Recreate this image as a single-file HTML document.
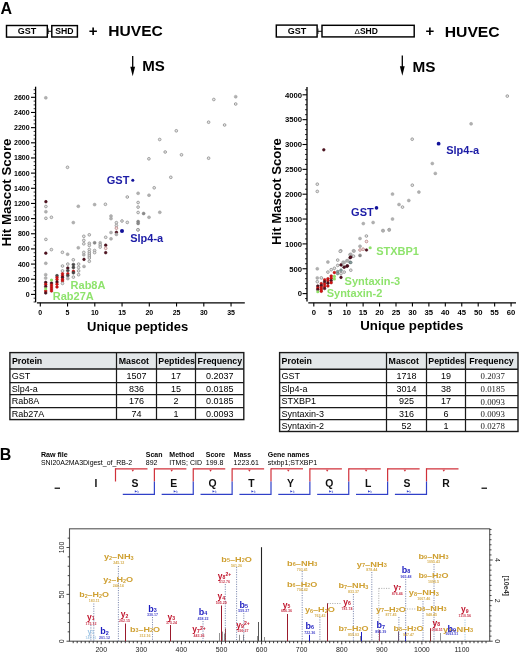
<!DOCTYPE html>
<html><head><meta charset="utf-8"><style>
html,body{margin:0;padding:0;background:#fff;}
svg{display:block;font-family:"Liberation Sans", sans-serif;-webkit-font-smoothing:antialiased;will-change:transform;}
</style></head><body>
<svg width="520" height="653" viewBox="0 0 520 653">
<rect width="520" height="653" fill="#fff"/>
<text x="0.60" y="13.90" font-size="16" font-weight="bold" text-anchor="start" fill="#000" >A</text>
<rect x="6.5" y="25.5" width="40.8" height="11.6" fill="none" stroke="#000" stroke-width="1.45"/>
<text x="27.00" y="34.00" font-size="9" font-weight="bold" text-anchor="middle" fill="#000" >GST</text>
<line x1="47.30" y1="31.30" x2="51.80" y2="31.30" stroke="#111" stroke-width="1" />
<line x1="48.30" y1="28.50" x2="48.30" y2="34.00" stroke="#111" stroke-width="0.8" />
<rect x="51.8" y="25.6" width="25.6" height="11.4" fill="none" stroke="#000" stroke-width="1.45"/>
<text x="64.30" y="34.20" font-size="8.7" font-weight="bold" text-anchor="middle" fill="#000" >SHD</text>
<text x="88.80" y="36.00" font-size="15" font-weight="bold" text-anchor="start" fill="#000" >+</text>
<text x="108.30" y="36.30" font-size="15" font-weight="bold" text-anchor="start" fill="#000" textLength="54.5" lengthAdjust="spacingAndGlyphs">HUVEC</text>
<line x1="132.70" y1="56.00" x2="132.70" y2="68.50" stroke="#000" stroke-width="1.3" />
<polygon points="130.3,66.8 135.1,66.8 132.7,76.2" fill="#000"/>
<text x="142.20" y="71.40" font-size="15" font-weight="bold" text-anchor="start" fill="#000" textLength="22.6" lengthAdjust="spacingAndGlyphs">MS</text>
<rect x="276.3" y="25.1" width="40.8" height="11.9" fill="none" stroke="#000" stroke-width="1.45"/>
<text x="296.90" y="34.00" font-size="9" font-weight="bold" text-anchor="middle" fill="#000" >GST</text>
<line x1="317.10" y1="31.30" x2="322.00" y2="31.30" stroke="#111" stroke-width="1" />
<line x1="318.00" y1="28.50" x2="318.00" y2="34.00" stroke="#111" stroke-width="0.8" />
<rect x="322.0" y="25.3" width="92.2" height="11.6" fill="none" stroke="#000" stroke-width="1.45"/>
<text x="354.6" y="34.3" font-size="8.5" font-weight="bold" fill="#000"><tspan font-weight="normal" font-size="8">&#916;</tspan>SHD</text>
<text x="425.40" y="36.30" font-size="15" font-weight="bold" text-anchor="start" fill="#000" >+</text>
<text x="444.70" y="36.60" font-size="15" font-weight="bold" text-anchor="start" fill="#000" textLength="55" lengthAdjust="spacingAndGlyphs">HUVEC</text>
<line x1="402.30" y1="55.50" x2="402.30" y2="68.00" stroke="#000" stroke-width="1.3" />
<polygon points="399.9,66.3 404.7,66.3 402.3,75.8" fill="#000"/>
<text x="412.50" y="71.50" font-size="15" font-weight="bold" text-anchor="start" fill="#000" textLength="23" lengthAdjust="spacingAndGlyphs">MS</text>
<line x1="35.60" y1="86.70" x2="35.60" y2="302.20" stroke="#000" stroke-width="1.3" />
<line x1="33.60" y1="301.98" x2="35.60" y2="301.98" stroke="#000" stroke-width="0.8" />
<line x1="33.60" y1="298.19" x2="35.60" y2="298.19" stroke="#000" stroke-width="0.8" />
<line x1="31.00" y1="294.40" x2="35.60" y2="294.40" stroke="#000" stroke-width="1.1" />
<text x="29.60" y="296.90" font-size="7" font-weight="bold" text-anchor="end" fill="#000" >0</text>
<line x1="33.60" y1="290.61" x2="35.60" y2="290.61" stroke="#000" stroke-width="0.8" />
<line x1="33.60" y1="286.82" x2="35.60" y2="286.82" stroke="#000" stroke-width="0.8" />
<line x1="33.60" y1="283.03" x2="35.60" y2="283.03" stroke="#000" stroke-width="0.8" />
<line x1="31.00" y1="279.24" x2="35.60" y2="279.24" stroke="#000" stroke-width="1.1" />
<text x="29.60" y="281.74" font-size="7" font-weight="bold" text-anchor="end" fill="#000" >200</text>
<line x1="33.60" y1="275.45" x2="35.60" y2="275.45" stroke="#000" stroke-width="0.8" />
<line x1="33.60" y1="271.66" x2="35.60" y2="271.66" stroke="#000" stroke-width="0.8" />
<line x1="33.60" y1="267.87" x2="35.60" y2="267.87" stroke="#000" stroke-width="0.8" />
<line x1="31.00" y1="264.08" x2="35.60" y2="264.08" stroke="#000" stroke-width="1.1" />
<text x="29.60" y="266.58" font-size="7" font-weight="bold" text-anchor="end" fill="#000" >400</text>
<line x1="33.60" y1="260.29" x2="35.60" y2="260.29" stroke="#000" stroke-width="0.8" />
<line x1="33.60" y1="256.50" x2="35.60" y2="256.50" stroke="#000" stroke-width="0.8" />
<line x1="33.60" y1="252.71" x2="35.60" y2="252.71" stroke="#000" stroke-width="0.8" />
<line x1="31.00" y1="248.92" x2="35.60" y2="248.92" stroke="#000" stroke-width="1.1" />
<text x="29.60" y="251.42" font-size="7" font-weight="bold" text-anchor="end" fill="#000" >600</text>
<line x1="33.60" y1="245.13" x2="35.60" y2="245.13" stroke="#000" stroke-width="0.8" />
<line x1="33.60" y1="241.34" x2="35.60" y2="241.34" stroke="#000" stroke-width="0.8" />
<line x1="33.60" y1="237.55" x2="35.60" y2="237.55" stroke="#000" stroke-width="0.8" />
<line x1="31.00" y1="233.76" x2="35.60" y2="233.76" stroke="#000" stroke-width="1.1" />
<text x="29.60" y="236.26" font-size="7" font-weight="bold" text-anchor="end" fill="#000" >800</text>
<line x1="33.60" y1="229.97" x2="35.60" y2="229.97" stroke="#000" stroke-width="0.8" />
<line x1="33.60" y1="226.18" x2="35.60" y2="226.18" stroke="#000" stroke-width="0.8" />
<line x1="33.60" y1="222.39" x2="35.60" y2="222.39" stroke="#000" stroke-width="0.8" />
<line x1="31.00" y1="218.60" x2="35.60" y2="218.60" stroke="#000" stroke-width="1.1" />
<text x="29.60" y="221.10" font-size="7" font-weight="bold" text-anchor="end" fill="#000" >1000</text>
<line x1="33.60" y1="214.81" x2="35.60" y2="214.81" stroke="#000" stroke-width="0.8" />
<line x1="33.60" y1="211.02" x2="35.60" y2="211.02" stroke="#000" stroke-width="0.8" />
<line x1="33.60" y1="207.23" x2="35.60" y2="207.23" stroke="#000" stroke-width="0.8" />
<line x1="31.00" y1="203.44" x2="35.60" y2="203.44" stroke="#000" stroke-width="1.1" />
<text x="29.60" y="205.94" font-size="7" font-weight="bold" text-anchor="end" fill="#000" >1200</text>
<line x1="33.60" y1="199.65" x2="35.60" y2="199.65" stroke="#000" stroke-width="0.8" />
<line x1="33.60" y1="195.86" x2="35.60" y2="195.86" stroke="#000" stroke-width="0.8" />
<line x1="33.60" y1="192.07" x2="35.60" y2="192.07" stroke="#000" stroke-width="0.8" />
<line x1="31.00" y1="188.28" x2="35.60" y2="188.28" stroke="#000" stroke-width="1.1" />
<text x="29.60" y="190.78" font-size="7" font-weight="bold" text-anchor="end" fill="#000" >1400</text>
<line x1="33.60" y1="184.49" x2="35.60" y2="184.49" stroke="#000" stroke-width="0.8" />
<line x1="33.60" y1="180.70" x2="35.60" y2="180.70" stroke="#000" stroke-width="0.8" />
<line x1="33.60" y1="176.91" x2="35.60" y2="176.91" stroke="#000" stroke-width="0.8" />
<line x1="31.00" y1="173.12" x2="35.60" y2="173.12" stroke="#000" stroke-width="1.1" />
<text x="29.60" y="175.62" font-size="7" font-weight="bold" text-anchor="end" fill="#000" >1600</text>
<line x1="33.60" y1="169.33" x2="35.60" y2="169.33" stroke="#000" stroke-width="0.8" />
<line x1="33.60" y1="165.54" x2="35.60" y2="165.54" stroke="#000" stroke-width="0.8" />
<line x1="33.60" y1="161.75" x2="35.60" y2="161.75" stroke="#000" stroke-width="0.8" />
<line x1="31.00" y1="157.96" x2="35.60" y2="157.96" stroke="#000" stroke-width="1.1" />
<text x="29.60" y="160.46" font-size="7" font-weight="bold" text-anchor="end" fill="#000" >1800</text>
<line x1="33.60" y1="154.17" x2="35.60" y2="154.17" stroke="#000" stroke-width="0.8" />
<line x1="33.60" y1="150.38" x2="35.60" y2="150.38" stroke="#000" stroke-width="0.8" />
<line x1="33.60" y1="146.59" x2="35.60" y2="146.59" stroke="#000" stroke-width="0.8" />
<line x1="31.00" y1="142.80" x2="35.60" y2="142.80" stroke="#000" stroke-width="1.1" />
<text x="29.60" y="145.30" font-size="7" font-weight="bold" text-anchor="end" fill="#000" >2000</text>
<line x1="33.60" y1="139.01" x2="35.60" y2="139.01" stroke="#000" stroke-width="0.8" />
<line x1="33.60" y1="135.22" x2="35.60" y2="135.22" stroke="#000" stroke-width="0.8" />
<line x1="33.60" y1="131.43" x2="35.60" y2="131.43" stroke="#000" stroke-width="0.8" />
<line x1="31.00" y1="127.64" x2="35.60" y2="127.64" stroke="#000" stroke-width="1.1" />
<text x="29.60" y="130.14" font-size="7" font-weight="bold" text-anchor="end" fill="#000" >2200</text>
<line x1="33.60" y1="123.85" x2="35.60" y2="123.85" stroke="#000" stroke-width="0.8" />
<line x1="33.60" y1="120.06" x2="35.60" y2="120.06" stroke="#000" stroke-width="0.8" />
<line x1="33.60" y1="116.27" x2="35.60" y2="116.27" stroke="#000" stroke-width="0.8" />
<line x1="31.00" y1="112.48" x2="35.60" y2="112.48" stroke="#000" stroke-width="1.1" />
<text x="29.60" y="114.98" font-size="7" font-weight="bold" text-anchor="end" fill="#000" >2400</text>
<line x1="33.60" y1="108.69" x2="35.60" y2="108.69" stroke="#000" stroke-width="0.8" />
<line x1="33.60" y1="104.90" x2="35.60" y2="104.90" stroke="#000" stroke-width="0.8" />
<line x1="33.60" y1="101.11" x2="35.60" y2="101.11" stroke="#000" stroke-width="0.8" />
<line x1="31.00" y1="97.32" x2="35.60" y2="97.32" stroke="#000" stroke-width="1.1" />
<text x="29.60" y="99.82" font-size="7" font-weight="bold" text-anchor="end" fill="#000" >2600</text>
<line x1="33.60" y1="93.53" x2="35.60" y2="93.53" stroke="#000" stroke-width="0.8" />
<line x1="33.60" y1="89.74" x2="35.60" y2="89.74" stroke="#000" stroke-width="0.8" />
<line x1="36.90" y1="302.80" x2="244.80" y2="302.80" stroke="#000" stroke-width="1.3" />
<line x1="40.30" y1="302.80" x2="40.30" y2="306.60" stroke="#000" stroke-width="1.1" />
<text x="40.30" y="314.80" font-size="7" font-weight="bold" text-anchor="middle" fill="#000" >0</text>
<line x1="67.55" y1="302.80" x2="67.55" y2="306.60" stroke="#000" stroke-width="1.1" />
<text x="67.55" y="314.80" font-size="7" font-weight="bold" text-anchor="middle" fill="#000" >5</text>
<line x1="94.80" y1="302.80" x2="94.80" y2="306.60" stroke="#000" stroke-width="1.1" />
<text x="94.80" y="314.80" font-size="7" font-weight="bold" text-anchor="middle" fill="#000" >10</text>
<line x1="122.05" y1="302.80" x2="122.05" y2="306.60" stroke="#000" stroke-width="1.1" />
<text x="122.05" y="314.80" font-size="7" font-weight="bold" text-anchor="middle" fill="#000" >15</text>
<line x1="149.30" y1="302.80" x2="149.30" y2="306.60" stroke="#000" stroke-width="1.1" />
<text x="149.30" y="314.80" font-size="7" font-weight="bold" text-anchor="middle" fill="#000" >20</text>
<line x1="176.55" y1="302.80" x2="176.55" y2="306.60" stroke="#000" stroke-width="1.1" />
<text x="176.55" y="314.80" font-size="7" font-weight="bold" text-anchor="middle" fill="#000" >25</text>
<line x1="203.80" y1="302.80" x2="203.80" y2="306.60" stroke="#000" stroke-width="1.1" />
<text x="203.80" y="314.80" font-size="7" font-weight="bold" text-anchor="middle" fill="#000" >30</text>
<line x1="231.05" y1="302.80" x2="231.05" y2="306.60" stroke="#000" stroke-width="1.1" />
<text x="231.05" y="314.80" font-size="7" font-weight="bold" text-anchor="middle" fill="#000" >35</text>
<text transform="translate(10.6,192.5) rotate(-90)" x="0" y="0" font-size="13" font-weight="bold" text-anchor="middle" textLength="108" lengthAdjust="spacingAndGlyphs">Hit Mascot Score</text>
<text x="137.60" y="331.20" font-size="13" font-weight="bold" text-anchor="middle" fill="#000" >Unique peptides</text>
<line x1="307.00" y1="87.00" x2="307.00" y2="301.60" stroke="#000" stroke-width="1.3" />
<line x1="305.00" y1="298.57" x2="307.00" y2="298.57" stroke="#000" stroke-width="0.8" />
<line x1="302.50" y1="293.60" x2="307.00" y2="293.60" stroke="#000" stroke-width="1.1" />
<text x="302.00" y="296.40" font-size="7.7" font-weight="bold" text-anchor="end" fill="#000" >0</text>
<line x1="305.00" y1="288.63" x2="307.00" y2="288.63" stroke="#000" stroke-width="0.8" />
<line x1="305.00" y1="283.66" x2="307.00" y2="283.66" stroke="#000" stroke-width="0.8" />
<line x1="305.00" y1="278.69" x2="307.00" y2="278.69" stroke="#000" stroke-width="0.8" />
<line x1="305.00" y1="273.72" x2="307.00" y2="273.72" stroke="#000" stroke-width="0.8" />
<line x1="302.50" y1="268.75" x2="307.00" y2="268.75" stroke="#000" stroke-width="1.1" />
<text x="302.00" y="271.55" font-size="7.7" font-weight="bold" text-anchor="end" fill="#000" >500</text>
<line x1="305.00" y1="263.78" x2="307.00" y2="263.78" stroke="#000" stroke-width="0.8" />
<line x1="305.00" y1="258.81" x2="307.00" y2="258.81" stroke="#000" stroke-width="0.8" />
<line x1="305.00" y1="253.84" x2="307.00" y2="253.84" stroke="#000" stroke-width="0.8" />
<line x1="305.00" y1="248.87" x2="307.00" y2="248.87" stroke="#000" stroke-width="0.8" />
<line x1="302.50" y1="243.90" x2="307.00" y2="243.90" stroke="#000" stroke-width="1.1" />
<text x="302.00" y="246.70" font-size="7.7" font-weight="bold" text-anchor="end" fill="#000" >1000</text>
<line x1="305.00" y1="238.93" x2="307.00" y2="238.93" stroke="#000" stroke-width="0.8" />
<line x1="305.00" y1="233.96" x2="307.00" y2="233.96" stroke="#000" stroke-width="0.8" />
<line x1="305.00" y1="228.99" x2="307.00" y2="228.99" stroke="#000" stroke-width="0.8" />
<line x1="305.00" y1="224.02" x2="307.00" y2="224.02" stroke="#000" stroke-width="0.8" />
<line x1="302.50" y1="219.05" x2="307.00" y2="219.05" stroke="#000" stroke-width="1.1" />
<text x="302.00" y="221.85" font-size="7.7" font-weight="bold" text-anchor="end" fill="#000" >1500</text>
<line x1="305.00" y1="214.08" x2="307.00" y2="214.08" stroke="#000" stroke-width="0.8" />
<line x1="305.00" y1="209.11" x2="307.00" y2="209.11" stroke="#000" stroke-width="0.8" />
<line x1="305.00" y1="204.14" x2="307.00" y2="204.14" stroke="#000" stroke-width="0.8" />
<line x1="305.00" y1="199.17" x2="307.00" y2="199.17" stroke="#000" stroke-width="0.8" />
<line x1="302.50" y1="194.20" x2="307.00" y2="194.20" stroke="#000" stroke-width="1.1" />
<text x="302.00" y="197.00" font-size="7.7" font-weight="bold" text-anchor="end" fill="#000" >2000</text>
<line x1="305.00" y1="189.23" x2="307.00" y2="189.23" stroke="#000" stroke-width="0.8" />
<line x1="305.00" y1="184.26" x2="307.00" y2="184.26" stroke="#000" stroke-width="0.8" />
<line x1="305.00" y1="179.29" x2="307.00" y2="179.29" stroke="#000" stroke-width="0.8" />
<line x1="305.00" y1="174.32" x2="307.00" y2="174.32" stroke="#000" stroke-width="0.8" />
<line x1="302.50" y1="169.35" x2="307.00" y2="169.35" stroke="#000" stroke-width="1.1" />
<text x="302.00" y="172.15" font-size="7.7" font-weight="bold" text-anchor="end" fill="#000" >2500</text>
<line x1="305.00" y1="164.38" x2="307.00" y2="164.38" stroke="#000" stroke-width="0.8" />
<line x1="305.00" y1="159.41" x2="307.00" y2="159.41" stroke="#000" stroke-width="0.8" />
<line x1="305.00" y1="154.44" x2="307.00" y2="154.44" stroke="#000" stroke-width="0.8" />
<line x1="305.00" y1="149.47" x2="307.00" y2="149.47" stroke="#000" stroke-width="0.8" />
<line x1="302.50" y1="144.50" x2="307.00" y2="144.50" stroke="#000" stroke-width="1.1" />
<text x="302.00" y="147.30" font-size="7.7" font-weight="bold" text-anchor="end" fill="#000" >3000</text>
<line x1="305.00" y1="139.53" x2="307.00" y2="139.53" stroke="#000" stroke-width="0.8" />
<line x1="305.00" y1="134.56" x2="307.00" y2="134.56" stroke="#000" stroke-width="0.8" />
<line x1="305.00" y1="129.59" x2="307.00" y2="129.59" stroke="#000" stroke-width="0.8" />
<line x1="305.00" y1="124.62" x2="307.00" y2="124.62" stroke="#000" stroke-width="0.8" />
<line x1="302.50" y1="119.65" x2="307.00" y2="119.65" stroke="#000" stroke-width="1.1" />
<text x="302.00" y="122.45" font-size="7.7" font-weight="bold" text-anchor="end" fill="#000" >3500</text>
<line x1="305.00" y1="114.68" x2="307.00" y2="114.68" stroke="#000" stroke-width="0.8" />
<line x1="305.00" y1="109.71" x2="307.00" y2="109.71" stroke="#000" stroke-width="0.8" />
<line x1="305.00" y1="104.74" x2="307.00" y2="104.74" stroke="#000" stroke-width="0.8" />
<line x1="305.00" y1="99.77" x2="307.00" y2="99.77" stroke="#000" stroke-width="0.8" />
<line x1="302.50" y1="94.80" x2="307.00" y2="94.80" stroke="#000" stroke-width="1.1" />
<text x="302.00" y="97.60" font-size="7.7" font-weight="bold" text-anchor="end" fill="#000" >4000</text>
<line x1="305.00" y1="89.83" x2="307.00" y2="89.83" stroke="#000" stroke-width="0.8" />
<line x1="308.30" y1="302.80" x2="516.00" y2="302.80" stroke="#000" stroke-width="1.3" />
<line x1="313.80" y1="302.80" x2="313.80" y2="306.60" stroke="#000" stroke-width="1.1" />
<text x="313.80" y="314.70" font-size="7.7" font-weight="bold" text-anchor="middle" fill="#000" >0</text>
<line x1="330.24" y1="302.80" x2="330.24" y2="306.60" stroke="#000" stroke-width="1.1" />
<text x="330.24" y="314.70" font-size="7.7" font-weight="bold" text-anchor="middle" fill="#000" >5</text>
<line x1="346.68" y1="302.80" x2="346.68" y2="306.60" stroke="#000" stroke-width="1.1" />
<text x="346.68" y="314.70" font-size="7.7" font-weight="bold" text-anchor="middle" fill="#000" >10</text>
<line x1="363.12" y1="302.80" x2="363.12" y2="306.60" stroke="#000" stroke-width="1.1" />
<text x="363.12" y="314.70" font-size="7.7" font-weight="bold" text-anchor="middle" fill="#000" >15</text>
<line x1="379.56" y1="302.80" x2="379.56" y2="306.60" stroke="#000" stroke-width="1.1" />
<text x="379.56" y="314.70" font-size="7.7" font-weight="bold" text-anchor="middle" fill="#000" >20</text>
<line x1="396.00" y1="302.80" x2="396.00" y2="306.60" stroke="#000" stroke-width="1.1" />
<text x="396.00" y="314.70" font-size="7.7" font-weight="bold" text-anchor="middle" fill="#000" >25</text>
<line x1="412.44" y1="302.80" x2="412.44" y2="306.60" stroke="#000" stroke-width="1.1" />
<text x="412.44" y="314.70" font-size="7.7" font-weight="bold" text-anchor="middle" fill="#000" >30</text>
<line x1="428.88" y1="302.80" x2="428.88" y2="306.60" stroke="#000" stroke-width="1.1" />
<text x="428.88" y="314.70" font-size="7.7" font-weight="bold" text-anchor="middle" fill="#000" >35</text>
<line x1="445.32" y1="302.80" x2="445.32" y2="306.60" stroke="#000" stroke-width="1.1" />
<text x="445.32" y="314.70" font-size="7.7" font-weight="bold" text-anchor="middle" fill="#000" >40</text>
<line x1="461.76" y1="302.80" x2="461.76" y2="306.60" stroke="#000" stroke-width="1.1" />
<text x="461.76" y="314.70" font-size="7.7" font-weight="bold" text-anchor="middle" fill="#000" >45</text>
<line x1="478.20" y1="302.80" x2="478.20" y2="306.60" stroke="#000" stroke-width="1.1" />
<text x="478.20" y="314.70" font-size="7.7" font-weight="bold" text-anchor="middle" fill="#000" >50</text>
<line x1="494.64" y1="302.80" x2="494.64" y2="306.60" stroke="#000" stroke-width="1.1" />
<text x="494.64" y="314.70" font-size="7.7" font-weight="bold" text-anchor="middle" fill="#000" >55</text>
<line x1="511.08" y1="302.80" x2="511.08" y2="306.60" stroke="#000" stroke-width="1.1" />
<text x="511.08" y="314.70" font-size="7.7" font-weight="bold" text-anchor="middle" fill="#000" >60</text>
<text transform="translate(281.2,191.6) rotate(-90)" x="0" y="0" font-size="11.9" font-weight="bold" text-anchor="middle" textLength="106.6" lengthAdjust="spacingAndGlyphs">Hit Mascot Score</text>
<text x="411.80" y="330.40" font-size="13" font-weight="bold" text-anchor="middle" fill="#000" textLength="103" lengthAdjust="spacingAndGlyphs">Unique peptides</text>
<rect x="9.9" y="352.6" width="233.9" height="16.399999999999977" fill="#e3e7e9"/>
<rect x="9.9" y="352.6" width="233.9" height="67.0" fill="none" stroke="#1a1a1a" stroke-width="1.4"/>
<line x1="9.90" y1="369.00" x2="243.80" y2="369.00" stroke="#1a1a1a" stroke-width="1.6" />
<line x1="9.90" y1="382.50" x2="243.80" y2="382.50" stroke="#1a1a1a" stroke-width="1.25" />
<line x1="9.90" y1="394.50" x2="243.80" y2="394.50" stroke="#1a1a1a" stroke-width="1.25" />
<line x1="9.90" y1="407.50" x2="243.80" y2="407.50" stroke="#1a1a1a" stroke-width="1.25" />
<line x1="116.50" y1="352.60" x2="116.50" y2="419.60" stroke="#1a1a1a" stroke-width="1.25" />
<line x1="156.50" y1="352.60" x2="156.50" y2="419.60" stroke="#1a1a1a" stroke-width="1.25" />
<line x1="195.50" y1="352.60" x2="195.50" y2="419.60" stroke="#1a1a1a" stroke-width="1.25" />
<text x="11.90" y="363.70" font-size="8.8" font-weight="bold" text-anchor="start" fill="#000" >Protein</text>
<text x="118.70" y="363.70" font-size="8.8" font-weight="bold" text-anchor="start" fill="#000" >Mascot</text>
<text x="158.30" y="363.70" font-size="8.8" font-weight="bold" text-anchor="start" fill="#000" >Peptides</text>
<text x="197.60" y="363.70" font-size="8.8" font-weight="bold" text-anchor="start" fill="#000" >Frequency</text>
<text x="11.70" y="378.85" font-size="9" font-weight="normal" text-anchor="start" fill="#000" >GST</text>
<text x="136.50" y="378.85" font-size="9" font-weight="normal" text-anchor="middle" fill="#000" >1507</text>
<text x="175.95" y="378.85" font-size="9" font-weight="normal" text-anchor="middle" fill="#000" >17</text>
<text x="219.70" y="378.85" font-size="9" font-weight="normal" text-anchor="middle" fill="#000" >0.2037</text>
<text x="11.70" y="391.75" font-size="9" font-weight="normal" text-anchor="start" fill="#000" >Slp4-a</text>
<text x="136.50" y="391.75" font-size="9" font-weight="normal" text-anchor="middle" fill="#000" >836</text>
<text x="175.95" y="391.75" font-size="9" font-weight="normal" text-anchor="middle" fill="#000" >15</text>
<text x="219.70" y="391.75" font-size="9" font-weight="normal" text-anchor="middle" fill="#000" >0.0185</text>
<text x="11.70" y="404.25" font-size="9" font-weight="normal" text-anchor="start" fill="#000" >Rab8A</text>
<text x="136.50" y="404.25" font-size="9" font-weight="normal" text-anchor="middle" fill="#000" >176</text>
<text x="175.95" y="404.25" font-size="9" font-weight="normal" text-anchor="middle" fill="#000" >2</text>
<text x="219.70" y="404.25" font-size="9" font-weight="normal" text-anchor="middle" fill="#000" >0.0185</text>
<text x="11.70" y="416.65" font-size="9" font-weight="normal" text-anchor="start" fill="#000" >Rab27A</text>
<text x="136.50" y="416.65" font-size="9" font-weight="normal" text-anchor="middle" fill="#000" >74</text>
<text x="175.95" y="416.65" font-size="9" font-weight="normal" text-anchor="middle" fill="#000" >1</text>
<text x="219.70" y="416.65" font-size="9" font-weight="normal" text-anchor="middle" fill="#000" >0.0093</text>
<rect x="279.6" y="352.6" width="238.39999999999998" height="16.599999999999966" fill="#e3e7e9"/>
<rect x="279.6" y="352.6" width="238.39999999999998" height="78.89999999999998" fill="none" stroke="#1a1a1a" stroke-width="1.4"/>
<line x1="279.60" y1="369.20" x2="518.00" y2="369.20" stroke="#1a1a1a" stroke-width="1.6" />
<line x1="279.60" y1="382.50" x2="518.00" y2="382.50" stroke="#1a1a1a" stroke-width="1.25" />
<line x1="279.60" y1="395.50" x2="518.00" y2="395.50" stroke="#1a1a1a" stroke-width="1.25" />
<line x1="279.60" y1="407.50" x2="518.00" y2="407.50" stroke="#1a1a1a" stroke-width="1.25" />
<line x1="279.60" y1="419.50" x2="518.00" y2="419.50" stroke="#1a1a1a" stroke-width="1.25" />
<line x1="386.50" y1="352.60" x2="386.50" y2="431.50" stroke="#1a1a1a" stroke-width="1.25" />
<line x1="426.50" y1="352.60" x2="426.50" y2="431.50" stroke="#1a1a1a" stroke-width="1.25" />
<line x1="465.50" y1="352.60" x2="465.50" y2="431.50" stroke="#1a1a1a" stroke-width="1.25" />
<text x="281.60" y="363.80" font-size="8.8" font-weight="bold" text-anchor="start" fill="#000" >Protein</text>
<text x="388.60" y="363.80" font-size="8.8" font-weight="bold" text-anchor="start" fill="#000" >Mascot</text>
<text x="428.30" y="363.80" font-size="8.8" font-weight="bold" text-anchor="start" fill="#000" >Peptides</text>
<text x="469.20" y="363.80" font-size="8.8" font-weight="bold" text-anchor="start" fill="#000" >Frequency</text>
<text x="281.40" y="379.05" font-size="9" font-weight="normal" text-anchor="start" fill="#000" >GST</text>
<text x="406.45" y="379.05" font-size="9" font-weight="normal" text-anchor="middle" fill="#000" >1718</text>
<text x="445.95" y="379.05" font-size="9" font-weight="normal" text-anchor="middle" fill="#000" >19</text>
<text x="492.70" y="379.45" font-size="8.8" text-anchor="middle" font-family="Liberation Serif, serif" fill="#222">0.2037</text>
<text x="281.40" y="391.95" font-size="9" font-weight="normal" text-anchor="start" fill="#000" >Slp4-a</text>
<text x="406.45" y="391.95" font-size="9" font-weight="normal" text-anchor="middle" fill="#000" >3014</text>
<text x="445.95" y="391.95" font-size="9" font-weight="normal" text-anchor="middle" fill="#000" >38</text>
<text x="492.70" y="392.35" font-size="8.8" text-anchor="middle" font-family="Liberation Serif, serif" fill="#222">0.0185</text>
<text x="281.40" y="404.45" font-size="9" font-weight="normal" text-anchor="start" fill="#000" >STXBP1</text>
<text x="406.45" y="404.45" font-size="9" font-weight="normal" text-anchor="middle" fill="#000" >925</text>
<text x="445.95" y="404.45" font-size="9" font-weight="normal" text-anchor="middle" fill="#000" >17</text>
<text x="492.70" y="404.85" font-size="8.8" text-anchor="middle" font-family="Liberation Serif, serif" fill="#222">0.0093</text>
<text x="281.40" y="416.70" font-size="9" font-weight="normal" text-anchor="start" fill="#000" >Syntaxin-3</text>
<text x="406.45" y="416.70" font-size="9" font-weight="normal" text-anchor="middle" fill="#000" >316</text>
<text x="445.95" y="416.70" font-size="9" font-weight="normal" text-anchor="middle" fill="#000" >6</text>
<text x="492.70" y="417.10" font-size="8.8" text-anchor="middle" font-family="Liberation Serif, serif" fill="#222">0.0093</text>
<text x="281.40" y="428.70" font-size="9" font-weight="normal" text-anchor="start" fill="#000" >Syntaxin-2</text>
<text x="406.45" y="428.70" font-size="9" font-weight="normal" text-anchor="middle" fill="#000" >52</text>
<text x="445.95" y="428.70" font-size="9" font-weight="normal" text-anchor="middle" fill="#000" >1</text>
<text x="492.70" y="429.10" font-size="8.8" text-anchor="middle" font-family="Liberation Serif, serif" fill="#222">0.0278</text>
<text x="-0.20" y="460.40" font-size="16" font-weight="bold" text-anchor="start" fill="#000" >B</text>
<text x="40.90" y="456.90" font-size="7" font-weight="bold" text-anchor="start" fill="#000" textLength="26.9" lengthAdjust="spacingAndGlyphs">Raw file</text>
<text x="40.90" y="465.20" font-size="7" font-weight="normal" text-anchor="start" fill="#000" textLength="91.3" lengthAdjust="spacingAndGlyphs">SNI20A2MA3Digest_of_RB-2</text>
<text x="145.80" y="456.90" font-size="7" font-weight="bold" text-anchor="start" fill="#000" >Scan</text>
<text x="145.80" y="465.20" font-size="7" font-weight="normal" text-anchor="start" fill="#000" >892</text>
<text x="169.30" y="456.90" font-size="7" font-weight="bold" text-anchor="start" fill="#000" >Method</text>
<text x="169.30" y="465.20" font-size="7" font-weight="normal" text-anchor="start" fill="#000" >ITMS; CID</text>
<text x="205.80" y="456.90" font-size="7" font-weight="bold" text-anchor="start" fill="#000" >Score</text>
<text x="205.80" y="465.20" font-size="7" font-weight="normal" text-anchor="start" fill="#000" >199.8</text>
<text x="233.60" y="456.90" font-size="7" font-weight="bold" text-anchor="start" fill="#000" >Mass</text>
<text x="233.60" y="465.20" font-size="7" font-weight="normal" text-anchor="start" fill="#000" >1223.61</text>
<text x="267.70" y="456.90" font-size="7" font-weight="bold" text-anchor="start" fill="#000" >Gene names</text>
<text x="267.70" y="465.20" font-size="7" font-weight="normal" text-anchor="start" fill="#000" >stxbp1;STXBP1</text>
<line x1="115.50" y1="468.20" x2="115.50" y2="481.50" stroke="#d0303a" stroke-width="1.2" />
<line x1="115.50" y1="468.80" x2="147.50" y2="468.80" stroke="#d0303a" stroke-width="1.2" />
<polygon points="131.5,469.8 134.1,469.8 132.8,471.8" fill="#d0303a"/>
<line x1="154.38" y1="468.20" x2="154.38" y2="481.50" stroke="#d0303a" stroke-width="1.2" />
<line x1="154.38" y1="468.80" x2="186.38" y2="468.80" stroke="#d0303a" stroke-width="1.2" />
<polygon points="170.4,469.8 173.0,469.8 171.7,471.8" fill="#d0303a"/>
<line x1="154.38" y1="481.50" x2="154.38" y2="495.00" stroke="#3040c8" stroke-width="1.2" />
<line x1="122.78" y1="494.40" x2="154.38" y2="494.40" stroke="#3040c8" stroke-width="1.2" />
<polygon points="134.8,490.2 137.2,491.4 134.8,492.59999999999997" fill="#3040c8"/>
<text x="137.4" y="492.8" font-size="2.6" fill="#3040c8">b</text>
<line x1="193.25" y1="468.20" x2="193.25" y2="481.50" stroke="#d0303a" stroke-width="1.2" />
<line x1="193.25" y1="468.80" x2="225.25" y2="468.80" stroke="#d0303a" stroke-width="1.2" />
<polygon points="209.2,469.8 211.8,469.8 210.6,471.8" fill="#d0303a"/>
<line x1="193.25" y1="481.50" x2="193.25" y2="495.00" stroke="#3040c8" stroke-width="1.2" />
<line x1="161.65" y1="494.40" x2="193.25" y2="494.40" stroke="#3040c8" stroke-width="1.2" />
<polygon points="173.7,490.2 176.1,491.4 173.7,492.59999999999997" fill="#3040c8"/>
<text x="176.2" y="492.8" font-size="2.6" fill="#3040c8">b</text>
<line x1="232.12" y1="468.20" x2="232.12" y2="481.50" stroke="#d0303a" stroke-width="1.2" />
<line x1="232.12" y1="468.80" x2="264.12" y2="468.80" stroke="#d0303a" stroke-width="1.2" />
<polygon points="248.1,469.8 250.7,469.8 249.4,471.8" fill="#d0303a"/>
<line x1="232.12" y1="481.50" x2="232.12" y2="495.00" stroke="#3040c8" stroke-width="1.2" />
<line x1="200.53" y1="494.40" x2="232.12" y2="494.40" stroke="#3040c8" stroke-width="1.2" />
<polygon points="212.5,490.2 214.9,491.4 212.5,492.59999999999997" fill="#3040c8"/>
<text x="215.1" y="492.8" font-size="2.6" fill="#3040c8">b</text>
<line x1="271.00" y1="468.20" x2="271.00" y2="481.50" stroke="#d0303a" stroke-width="1.2" />
<line x1="271.00" y1="468.80" x2="303.00" y2="468.80" stroke="#d0303a" stroke-width="1.2" />
<polygon points="287.0,469.8 289.6,469.8 288.3,471.8" fill="#d0303a"/>
<line x1="271.00" y1="481.50" x2="271.00" y2="495.00" stroke="#3040c8" stroke-width="1.2" />
<line x1="239.40" y1="494.40" x2="271.00" y2="494.40" stroke="#3040c8" stroke-width="1.2" />
<polygon points="251.4,490.2 253.8,491.4 251.4,492.59999999999997" fill="#3040c8"/>
<text x="254.0" y="492.8" font-size="2.6" fill="#3040c8">b</text>
<line x1="309.88" y1="468.20" x2="309.88" y2="481.50" stroke="#d0303a" stroke-width="1.2" />
<line x1="309.88" y1="468.80" x2="341.88" y2="468.80" stroke="#d0303a" stroke-width="1.2" />
<polygon points="325.9,469.8 328.5,469.8 327.2,471.8" fill="#d0303a"/>
<line x1="309.88" y1="481.50" x2="309.88" y2="495.00" stroke="#3040c8" stroke-width="1.2" />
<line x1="278.27" y1="494.40" x2="309.88" y2="494.40" stroke="#3040c8" stroke-width="1.2" />
<polygon points="290.3,490.2 292.7,491.4 290.3,492.59999999999997" fill="#3040c8"/>
<text x="292.9" y="492.8" font-size="2.6" fill="#3040c8">b</text>
<line x1="348.75" y1="468.20" x2="348.75" y2="481.50" stroke="#d0303a" stroke-width="1.2" />
<line x1="348.75" y1="468.80" x2="380.75" y2="468.80" stroke="#d0303a" stroke-width="1.2" />
<polygon points="364.8,469.8 367.4,469.8 366.1,471.8" fill="#d0303a"/>
<line x1="348.75" y1="481.50" x2="348.75" y2="495.00" stroke="#3040c8" stroke-width="1.2" />
<line x1="317.15" y1="494.40" x2="348.75" y2="494.40" stroke="#3040c8" stroke-width="1.2" />
<polygon points="329.1,490.2 331.6,491.4 329.1,492.59999999999997" fill="#3040c8"/>
<text x="331.8" y="492.8" font-size="2.6" fill="#3040c8">b</text>
<line x1="387.62" y1="468.20" x2="387.62" y2="481.50" stroke="#d0303a" stroke-width="1.2" />
<line x1="387.62" y1="468.80" x2="419.62" y2="468.80" stroke="#d0303a" stroke-width="1.2" />
<polygon points="403.6,469.8 406.2,469.8 404.9,471.8" fill="#d0303a"/>
<line x1="387.62" y1="481.50" x2="387.62" y2="495.00" stroke="#3040c8" stroke-width="1.2" />
<line x1="356.02" y1="494.40" x2="387.62" y2="494.40" stroke="#3040c8" stroke-width="1.2" />
<polygon points="368.0,490.2 370.4,491.4 368.0,492.59999999999997" fill="#3040c8"/>
<text x="370.6" y="492.8" font-size="2.6" fill="#3040c8">b</text>
<line x1="426.50" y1="468.20" x2="426.50" y2="481.50" stroke="#d0303a" stroke-width="1.2" />
<line x1="426.50" y1="468.80" x2="458.50" y2="468.80" stroke="#d0303a" stroke-width="1.2" />
<polygon points="442.5,469.8 445.1,469.8 443.8,471.8" fill="#d0303a"/>
<line x1="426.50" y1="481.50" x2="426.50" y2="495.00" stroke="#3040c8" stroke-width="1.2" />
<line x1="394.90" y1="494.40" x2="426.50" y2="494.40" stroke="#3040c8" stroke-width="1.2" />
<polygon points="406.9,490.2 409.3,491.4 406.9,492.59999999999997" fill="#3040c8"/>
<text x="409.5" y="492.8" font-size="2.6" fill="#3040c8">b</text>
<text x="134.90" y="486.70" font-size="10.4" font-weight="bold" text-anchor="middle" fill="#111" >S</text>
<text x="173.78" y="486.70" font-size="10.4" font-weight="bold" text-anchor="middle" fill="#111" >E</text>
<text x="212.65" y="486.70" font-size="10.4" font-weight="bold" text-anchor="middle" fill="#111" >Q</text>
<text x="251.53" y="486.70" font-size="10.4" font-weight="bold" text-anchor="middle" fill="#111" >T</text>
<text x="290.40" y="486.70" font-size="10.4" font-weight="bold" text-anchor="middle" fill="#111" >Y</text>
<text x="329.27" y="486.70" font-size="10.4" font-weight="bold" text-anchor="middle" fill="#111" >Q</text>
<text x="368.15" y="486.70" font-size="10.4" font-weight="bold" text-anchor="middle" fill="#111" >L</text>
<text x="407.02" y="486.70" font-size="10.4" font-weight="bold" text-anchor="middle" fill="#111" >S</text>
<text x="445.90" y="486.70" font-size="10.4" font-weight="bold" text-anchor="middle" fill="#111" >R</text>
<text x="96.00" y="486.50" font-size="10.4" font-weight="bold" text-anchor="middle" fill="#111" >I</text>
<line x1="54.60" y1="488.20" x2="60.00" y2="488.20" stroke="#000" stroke-width="1.2" />
<line x1="481.50" y1="488.20" x2="487.00" y2="488.20" stroke="#000" stroke-width="1.2" />
<rect x="69.5" y="528.8" width="420.2" height="112.40000000000009" fill="none" stroke="#555" stroke-width="1.1"/>
<line x1="73.19" y1="641.20" x2="73.19" y2="643.20" stroke="#222" stroke-width="0.9" />
<line x1="77.20" y1="641.20" x2="77.20" y2="643.20" stroke="#222" stroke-width="0.9" />
<line x1="81.21" y1="641.20" x2="81.21" y2="643.20" stroke="#222" stroke-width="0.9" />
<line x1="85.22" y1="641.20" x2="85.22" y2="643.20" stroke="#222" stroke-width="0.9" />
<line x1="89.23" y1="641.20" x2="89.23" y2="643.20" stroke="#222" stroke-width="0.9" />
<line x1="93.23" y1="641.20" x2="93.23" y2="643.20" stroke="#222" stroke-width="0.9" />
<line x1="97.24" y1="641.20" x2="97.24" y2="643.20" stroke="#222" stroke-width="0.9" />
<line x1="101.25" y1="641.20" x2="101.25" y2="644.40" stroke="#222" stroke-width="0.9" />
<line x1="105.26" y1="641.20" x2="105.26" y2="643.20" stroke="#222" stroke-width="0.9" />
<line x1="109.27" y1="641.20" x2="109.27" y2="643.20" stroke="#222" stroke-width="0.9" />
<line x1="113.27" y1="641.20" x2="113.27" y2="643.20" stroke="#222" stroke-width="0.9" />
<line x1="117.28" y1="641.20" x2="117.28" y2="643.20" stroke="#222" stroke-width="0.9" />
<line x1="121.29" y1="641.20" x2="121.29" y2="643.20" stroke="#222" stroke-width="0.9" />
<line x1="125.30" y1="641.20" x2="125.30" y2="643.20" stroke="#222" stroke-width="0.9" />
<line x1="129.31" y1="641.20" x2="129.31" y2="643.20" stroke="#222" stroke-width="0.9" />
<line x1="133.31" y1="641.20" x2="133.31" y2="643.20" stroke="#222" stroke-width="0.9" />
<line x1="137.32" y1="641.20" x2="137.32" y2="643.20" stroke="#222" stroke-width="0.9" />
<line x1="141.33" y1="641.20" x2="141.33" y2="644.40" stroke="#222" stroke-width="0.9" />
<line x1="145.34" y1="641.20" x2="145.34" y2="643.20" stroke="#222" stroke-width="0.9" />
<line x1="149.35" y1="641.20" x2="149.35" y2="643.20" stroke="#222" stroke-width="0.9" />
<line x1="153.35" y1="641.20" x2="153.35" y2="643.20" stroke="#222" stroke-width="0.9" />
<line x1="157.36" y1="641.20" x2="157.36" y2="643.20" stroke="#222" stroke-width="0.9" />
<line x1="161.37" y1="641.20" x2="161.37" y2="643.20" stroke="#222" stroke-width="0.9" />
<line x1="165.38" y1="641.20" x2="165.38" y2="643.20" stroke="#222" stroke-width="0.9" />
<line x1="169.39" y1="641.20" x2="169.39" y2="643.20" stroke="#222" stroke-width="0.9" />
<line x1="173.39" y1="641.20" x2="173.39" y2="643.20" stroke="#222" stroke-width="0.9" />
<line x1="177.40" y1="641.20" x2="177.40" y2="643.20" stroke="#222" stroke-width="0.9" />
<line x1="181.41" y1="641.20" x2="181.41" y2="644.40" stroke="#222" stroke-width="0.9" />
<line x1="185.42" y1="641.20" x2="185.42" y2="643.20" stroke="#222" stroke-width="0.9" />
<line x1="189.43" y1="641.20" x2="189.43" y2="643.20" stroke="#222" stroke-width="0.9" />
<line x1="193.43" y1="641.20" x2="193.43" y2="643.20" stroke="#222" stroke-width="0.9" />
<line x1="197.44" y1="641.20" x2="197.44" y2="643.20" stroke="#222" stroke-width="0.9" />
<line x1="201.45" y1="641.20" x2="201.45" y2="643.20" stroke="#222" stroke-width="0.9" />
<line x1="205.46" y1="641.20" x2="205.46" y2="643.20" stroke="#222" stroke-width="0.9" />
<line x1="209.47" y1="641.20" x2="209.47" y2="643.20" stroke="#222" stroke-width="0.9" />
<line x1="213.47" y1="641.20" x2="213.47" y2="643.20" stroke="#222" stroke-width="0.9" />
<line x1="217.48" y1="641.20" x2="217.48" y2="643.20" stroke="#222" stroke-width="0.9" />
<line x1="221.49" y1="641.20" x2="221.49" y2="644.40" stroke="#222" stroke-width="0.9" />
<line x1="225.50" y1="641.20" x2="225.50" y2="643.20" stroke="#222" stroke-width="0.9" />
<line x1="229.51" y1="641.20" x2="229.51" y2="643.20" stroke="#222" stroke-width="0.9" />
<line x1="233.51" y1="641.20" x2="233.51" y2="643.20" stroke="#222" stroke-width="0.9" />
<line x1="237.52" y1="641.20" x2="237.52" y2="643.20" stroke="#222" stroke-width="0.9" />
<line x1="241.53" y1="641.20" x2="241.53" y2="643.20" stroke="#222" stroke-width="0.9" />
<line x1="245.54" y1="641.20" x2="245.54" y2="643.20" stroke="#222" stroke-width="0.9" />
<line x1="249.55" y1="641.20" x2="249.55" y2="643.20" stroke="#222" stroke-width="0.9" />
<line x1="253.55" y1="641.20" x2="253.55" y2="643.20" stroke="#222" stroke-width="0.9" />
<line x1="257.56" y1="641.20" x2="257.56" y2="643.20" stroke="#222" stroke-width="0.9" />
<line x1="261.57" y1="641.20" x2="261.57" y2="644.40" stroke="#222" stroke-width="0.9" />
<line x1="265.58" y1="641.20" x2="265.58" y2="643.20" stroke="#222" stroke-width="0.9" />
<line x1="269.59" y1="641.20" x2="269.59" y2="643.20" stroke="#222" stroke-width="0.9" />
<line x1="273.59" y1="641.20" x2="273.59" y2="643.20" stroke="#222" stroke-width="0.9" />
<line x1="277.60" y1="641.20" x2="277.60" y2="643.20" stroke="#222" stroke-width="0.9" />
<line x1="281.61" y1="641.20" x2="281.61" y2="643.20" stroke="#222" stroke-width="0.9" />
<line x1="285.62" y1="641.20" x2="285.62" y2="643.20" stroke="#222" stroke-width="0.9" />
<line x1="289.63" y1="641.20" x2="289.63" y2="643.20" stroke="#222" stroke-width="0.9" />
<line x1="293.63" y1="641.20" x2="293.63" y2="643.20" stroke="#222" stroke-width="0.9" />
<line x1="297.64" y1="641.20" x2="297.64" y2="643.20" stroke="#222" stroke-width="0.9" />
<line x1="301.65" y1="641.20" x2="301.65" y2="644.40" stroke="#222" stroke-width="0.9" />
<line x1="305.66" y1="641.20" x2="305.66" y2="643.20" stroke="#222" stroke-width="0.9" />
<line x1="309.67" y1="641.20" x2="309.67" y2="643.20" stroke="#222" stroke-width="0.9" />
<line x1="313.67" y1="641.20" x2="313.67" y2="643.20" stroke="#222" stroke-width="0.9" />
<line x1="317.68" y1="641.20" x2="317.68" y2="643.20" stroke="#222" stroke-width="0.9" />
<line x1="321.69" y1="641.20" x2="321.69" y2="643.20" stroke="#222" stroke-width="0.9" />
<line x1="325.70" y1="641.20" x2="325.70" y2="643.20" stroke="#222" stroke-width="0.9" />
<line x1="329.71" y1="641.20" x2="329.71" y2="643.20" stroke="#222" stroke-width="0.9" />
<line x1="333.71" y1="641.20" x2="333.71" y2="643.20" stroke="#222" stroke-width="0.9" />
<line x1="337.72" y1="641.20" x2="337.72" y2="643.20" stroke="#222" stroke-width="0.9" />
<line x1="341.73" y1="641.20" x2="341.73" y2="644.40" stroke="#222" stroke-width="0.9" />
<line x1="345.74" y1="641.20" x2="345.74" y2="643.20" stroke="#222" stroke-width="0.9" />
<line x1="349.75" y1="641.20" x2="349.75" y2="643.20" stroke="#222" stroke-width="0.9" />
<line x1="353.75" y1="641.20" x2="353.75" y2="643.20" stroke="#222" stroke-width="0.9" />
<line x1="357.76" y1="641.20" x2="357.76" y2="643.20" stroke="#222" stroke-width="0.9" />
<line x1="361.77" y1="641.20" x2="361.77" y2="643.20" stroke="#222" stroke-width="0.9" />
<line x1="365.78" y1="641.20" x2="365.78" y2="643.20" stroke="#222" stroke-width="0.9" />
<line x1="369.79" y1="641.20" x2="369.79" y2="643.20" stroke="#222" stroke-width="0.9" />
<line x1="373.79" y1="641.20" x2="373.79" y2="643.20" stroke="#222" stroke-width="0.9" />
<line x1="377.80" y1="641.20" x2="377.80" y2="643.20" stroke="#222" stroke-width="0.9" />
<line x1="381.81" y1="641.20" x2="381.81" y2="644.40" stroke="#222" stroke-width="0.9" />
<line x1="385.82" y1="641.20" x2="385.82" y2="643.20" stroke="#222" stroke-width="0.9" />
<line x1="389.83" y1="641.20" x2="389.83" y2="643.20" stroke="#222" stroke-width="0.9" />
<line x1="393.83" y1="641.20" x2="393.83" y2="643.20" stroke="#222" stroke-width="0.9" />
<line x1="397.84" y1="641.20" x2="397.84" y2="643.20" stroke="#222" stroke-width="0.9" />
<line x1="401.85" y1="641.20" x2="401.85" y2="643.20" stroke="#222" stroke-width="0.9" />
<line x1="405.86" y1="641.20" x2="405.86" y2="643.20" stroke="#222" stroke-width="0.9" />
<line x1="409.87" y1="641.20" x2="409.87" y2="643.20" stroke="#222" stroke-width="0.9" />
<line x1="413.87" y1="641.20" x2="413.87" y2="643.20" stroke="#222" stroke-width="0.9" />
<line x1="417.88" y1="641.20" x2="417.88" y2="643.20" stroke="#222" stroke-width="0.9" />
<line x1="421.89" y1="641.20" x2="421.89" y2="644.40" stroke="#222" stroke-width="0.9" />
<line x1="425.90" y1="641.20" x2="425.90" y2="643.20" stroke="#222" stroke-width="0.9" />
<line x1="429.91" y1="641.20" x2="429.91" y2="643.20" stroke="#222" stroke-width="0.9" />
<line x1="433.91" y1="641.20" x2="433.91" y2="643.20" stroke="#222" stroke-width="0.9" />
<line x1="437.92" y1="641.20" x2="437.92" y2="643.20" stroke="#222" stroke-width="0.9" />
<line x1="441.93" y1="641.20" x2="441.93" y2="643.20" stroke="#222" stroke-width="0.9" />
<line x1="445.94" y1="641.20" x2="445.94" y2="643.20" stroke="#222" stroke-width="0.9" />
<line x1="449.95" y1="641.20" x2="449.95" y2="643.20" stroke="#222" stroke-width="0.9" />
<line x1="453.95" y1="641.20" x2="453.95" y2="643.20" stroke="#222" stroke-width="0.9" />
<line x1="457.96" y1="641.20" x2="457.96" y2="643.20" stroke="#222" stroke-width="0.9" />
<line x1="461.97" y1="641.20" x2="461.97" y2="644.40" stroke="#222" stroke-width="0.9" />
<line x1="465.98" y1="641.20" x2="465.98" y2="643.20" stroke="#222" stroke-width="0.9" />
<line x1="469.99" y1="641.20" x2="469.99" y2="643.20" stroke="#222" stroke-width="0.9" />
<line x1="473.99" y1="641.20" x2="473.99" y2="643.20" stroke="#222" stroke-width="0.9" />
<line x1="478.00" y1="641.20" x2="478.00" y2="643.20" stroke="#222" stroke-width="0.9" />
<line x1="482.01" y1="641.20" x2="482.01" y2="643.20" stroke="#222" stroke-width="0.9" />
<line x1="486.02" y1="641.20" x2="486.02" y2="643.20" stroke="#222" stroke-width="0.9" />
<text x="101.25" y="651.50" font-size="7" font-weight="normal" text-anchor="middle" fill="#222" >200</text>
<text x="141.33" y="651.50" font-size="7" font-weight="normal" text-anchor="middle" fill="#222" >300</text>
<text x="181.41" y="651.50" font-size="7" font-weight="normal" text-anchor="middle" fill="#222" >400</text>
<text x="221.49" y="651.50" font-size="7" font-weight="normal" text-anchor="middle" fill="#222" >500</text>
<text x="261.57" y="651.50" font-size="7" font-weight="normal" text-anchor="middle" fill="#222" >600</text>
<text x="301.65" y="651.50" font-size="7" font-weight="normal" text-anchor="middle" fill="#222" >700</text>
<text x="341.73" y="651.50" font-size="7" font-weight="normal" text-anchor="middle" fill="#222" >800</text>
<text x="381.81" y="651.50" font-size="7" font-weight="normal" text-anchor="middle" fill="#222" >900</text>
<text x="421.89" y="651.50" font-size="7" font-weight="normal" text-anchor="middle" fill="#222" >1000</text>
<text x="461.97" y="651.50" font-size="7" font-weight="normal" text-anchor="middle" fill="#222" >1100</text>
<line x1="66.50" y1="641.20" x2="69.50" y2="641.20" stroke="#333" stroke-width="0.9" />
<line x1="67.70" y1="631.83" x2="69.50" y2="631.83" stroke="#333" stroke-width="0.9" />
<line x1="67.70" y1="622.46" x2="69.50" y2="622.46" stroke="#333" stroke-width="0.9" />
<line x1="67.70" y1="613.09" x2="69.50" y2="613.09" stroke="#333" stroke-width="0.9" />
<line x1="67.70" y1="603.72" x2="69.50" y2="603.72" stroke="#333" stroke-width="0.9" />
<line x1="66.50" y1="594.35" x2="69.50" y2="594.35" stroke="#333" stroke-width="0.9" />
<line x1="67.70" y1="584.98" x2="69.50" y2="584.98" stroke="#333" stroke-width="0.9" />
<line x1="67.70" y1="575.61" x2="69.50" y2="575.61" stroke="#333" stroke-width="0.9" />
<line x1="67.70" y1="566.24" x2="69.50" y2="566.24" stroke="#333" stroke-width="0.9" />
<line x1="67.70" y1="556.87" x2="69.50" y2="556.87" stroke="#333" stroke-width="0.9" />
<line x1="66.50" y1="547.50" x2="69.50" y2="547.50" stroke="#333" stroke-width="0.9" />
<line x1="67.70" y1="538.13" x2="69.50" y2="538.13" stroke="#333" stroke-width="0.9" />
<text transform="translate(64.4,641.2) rotate(-90)" font-size="7" text-anchor="middle" fill="#222">0</text>
<text transform="translate(64.4,594.4) rotate(-90)" font-size="7" text-anchor="middle" fill="#222">50</text>
<text transform="translate(64.4,547.5) rotate(-90)" font-size="7" text-anchor="middle" fill="#222">100</text>
<line x1="489.70" y1="641.20" x2="492.70" y2="641.20" stroke="#333" stroke-width="0.9" />
<line x1="489.70" y1="636.12" x2="491.50" y2="636.12" stroke="#333" stroke-width="0.9" />
<line x1="489.70" y1="631.05" x2="491.50" y2="631.05" stroke="#333" stroke-width="0.9" />
<line x1="489.70" y1="625.98" x2="491.50" y2="625.98" stroke="#333" stroke-width="0.9" />
<line x1="489.70" y1="620.90" x2="491.50" y2="620.90" stroke="#333" stroke-width="0.9" />
<line x1="489.70" y1="615.83" x2="491.50" y2="615.83" stroke="#333" stroke-width="0.9" />
<line x1="489.70" y1="610.75" x2="491.50" y2="610.75" stroke="#333" stroke-width="0.9" />
<line x1="489.70" y1="605.68" x2="491.50" y2="605.68" stroke="#333" stroke-width="0.9" />
<line x1="489.70" y1="600.60" x2="492.70" y2="600.60" stroke="#333" stroke-width="0.9" />
<line x1="489.70" y1="595.53" x2="491.50" y2="595.53" stroke="#333" stroke-width="0.9" />
<line x1="489.70" y1="590.45" x2="491.50" y2="590.45" stroke="#333" stroke-width="0.9" />
<line x1="489.70" y1="585.38" x2="491.50" y2="585.38" stroke="#333" stroke-width="0.9" />
<line x1="489.70" y1="580.30" x2="491.50" y2="580.30" stroke="#333" stroke-width="0.9" />
<line x1="489.70" y1="575.23" x2="491.50" y2="575.23" stroke="#333" stroke-width="0.9" />
<line x1="489.70" y1="570.15" x2="491.50" y2="570.15" stroke="#333" stroke-width="0.9" />
<line x1="489.70" y1="565.08" x2="491.50" y2="565.08" stroke="#333" stroke-width="0.9" />
<line x1="489.70" y1="560.00" x2="492.70" y2="560.00" stroke="#333" stroke-width="0.9" />
<line x1="489.70" y1="554.93" x2="491.50" y2="554.93" stroke="#333" stroke-width="0.9" />
<line x1="489.70" y1="549.85" x2="491.50" y2="549.85" stroke="#333" stroke-width="0.9" />
<line x1="489.70" y1="544.78" x2="491.50" y2="544.78" stroke="#333" stroke-width="0.9" />
<line x1="489.70" y1="539.70" x2="491.50" y2="539.70" stroke="#333" stroke-width="0.9" />
<line x1="489.70" y1="534.62" x2="491.50" y2="534.62" stroke="#333" stroke-width="0.9" />
<line x1="489.70" y1="529.55" x2="491.50" y2="529.55" stroke="#333" stroke-width="0.9" />
<text transform="translate(494.6,641.2) rotate(90)" font-size="7" text-anchor="middle" fill="#222">0</text>
<text transform="translate(494.6,600.6) rotate(90)" font-size="7" text-anchor="middle" fill="#222">2</text>
<text transform="translate(494.6,560.0) rotate(90)" font-size="7" text-anchor="middle" fill="#222">4</text>
<text transform="translate(503.6,585.7) rotate(90)" font-size="7.4" font-weight="bold" text-anchor="middle" fill="#333" textLength="20.5" lengthAdjust="spacingAndGlyphs">[10e4]</text>
<circle cx="45.8" cy="97.8" r="1.5" fill="#b0b0b0" stroke="#a0a0a0" stroke-width="0.5"/>
<circle cx="213.8" cy="99.5" r="1.35" fill="#e4e4e4" stroke="#8e8e8e" stroke-width="0.8"/>
<circle cx="235.7" cy="96.7" r="1.5" fill="#b0b0b0" stroke="#a0a0a0" stroke-width="0.5"/>
<circle cx="235.7" cy="104.0" r="1.35" fill="#e4e4e4" stroke="#8e8e8e" stroke-width="0.8"/>
<circle cx="208.6" cy="122.2" r="1.35" fill="#e4e4e4" stroke="#8e8e8e" stroke-width="0.8"/>
<circle cx="224.6" cy="125.0" r="1.35" fill="#e4e4e4" stroke="#8e8e8e" stroke-width="0.8"/>
<circle cx="176.3" cy="130.8" r="1.35" fill="#e4e4e4" stroke="#8e8e8e" stroke-width="0.8"/>
<circle cx="159.7" cy="139.5" r="1.35" fill="#e4e4e4" stroke="#8e8e8e" stroke-width="0.8"/>
<circle cx="165.2" cy="152.0" r="1.35" fill="#e4e4e4" stroke="#8e8e8e" stroke-width="0.8"/>
<circle cx="181.5" cy="154.8" r="1.35" fill="#e4e4e4" stroke="#8e8e8e" stroke-width="0.8"/>
<circle cx="148.9" cy="158.8" r="1.35" fill="#e4e4e4" stroke="#8e8e8e" stroke-width="0.8"/>
<circle cx="208.6" cy="158.2" r="1.35" fill="#e4e4e4" stroke="#8e8e8e" stroke-width="0.8"/>
<circle cx="170.8" cy="177.3" r="1.35" fill="#e4e4e4" stroke="#8e8e8e" stroke-width="0.8"/>
<circle cx="67.5" cy="167.3" r="1.35" fill="#e4e4e4" stroke="#8e8e8e" stroke-width="0.8"/>
<circle cx="154.2" cy="187.8" r="1.35" fill="#e4e4e4" stroke="#8e8e8e" stroke-width="0.8"/>
<circle cx="138.1" cy="193.3" r="1.5" fill="#b0b0b0" stroke="#a0a0a0" stroke-width="0.5"/>
<circle cx="149.0" cy="195.2" r="1.5" fill="#b0b0b0" stroke="#a0a0a0" stroke-width="0.5"/>
<circle cx="127.3" cy="197.0" r="1.35" fill="#e4e4e4" stroke="#8e8e8e" stroke-width="0.8"/>
<circle cx="138.1" cy="202.5" r="1.35" fill="#e4e4e4" stroke="#8e8e8e" stroke-width="0.8"/>
<circle cx="138.1" cy="207.1" r="1.35" fill="#e4e4e4" stroke="#8e8e8e" stroke-width="0.8"/>
<circle cx="138.1" cy="212.5" r="1.35" fill="#e4e4e4" stroke="#8e8e8e" stroke-width="0.8"/>
<circle cx="143.6" cy="213.5" r="1.5" fill="#8a8a8a" stroke="#7a7a7a" stroke-width="0.5"/>
<circle cx="159.8" cy="212.3" r="1.5" fill="#b0b0b0" stroke="#a0a0a0" stroke-width="0.5"/>
<circle cx="149.0" cy="217.3" r="1.5" fill="#b0b0b0" stroke="#a0a0a0" stroke-width="0.5"/>
<circle cx="138.1" cy="221.6" r="1.5" fill="#8a8a8a" stroke="#7a7a7a" stroke-width="0.5"/>
<circle cx="138.1" cy="223.4" r="1.5" fill="#8a8a8a" stroke="#7a7a7a" stroke-width="0.5"/>
<circle cx="138.1" cy="229.8" r="1.35" fill="#e4e4e4" stroke="#8e8e8e" stroke-width="0.8"/>
<circle cx="105.4" cy="204.3" r="1.35" fill="#e4e4e4" stroke="#8e8e8e" stroke-width="0.8"/>
<circle cx="94.6" cy="204.6" r="1.5" fill="#b0b0b0" stroke="#a0a0a0" stroke-width="0.5"/>
<circle cx="45.9" cy="201.7" r="1.35" fill="#521020" stroke="#380a12" stroke-width="0.5"/>
<circle cx="45.9" cy="206.5" r="1.35" fill="#e4e4e4" stroke="#8e8e8e" stroke-width="0.8"/>
<circle cx="78.3" cy="206.3" r="1.5" fill="#b0b0b0" stroke="#a0a0a0" stroke-width="0.5"/>
<circle cx="45.9" cy="211.7" r="1.5" fill="#b0b0b0" stroke="#a0a0a0" stroke-width="0.5"/>
<circle cx="45.9" cy="218.3" r="1.35" fill="#e4e4e4" stroke="#8e8e8e" stroke-width="0.8"/>
<circle cx="51.4" cy="217.3" r="1.35" fill="#e4e4e4" stroke="#8e8e8e" stroke-width="0.8"/>
<circle cx="73.3" cy="222.6" r="1.5" fill="#b0b0b0" stroke="#a0a0a0" stroke-width="0.5"/>
<circle cx="45.9" cy="239.4" r="1.35" fill="#e4e4e4" stroke="#8e8e8e" stroke-width="0.8"/>
<circle cx="51.4" cy="249.6" r="1.35" fill="#e4e4e4" stroke="#8e8e8e" stroke-width="0.8"/>
<circle cx="45.8" cy="253.2" r="1.35" fill="#521020" stroke="#380a12" stroke-width="0.5"/>
<circle cx="62.4" cy="252.3" r="1.35" fill="#e4e4e4" stroke="#8e8e8e" stroke-width="0.8"/>
<circle cx="67.6" cy="254.2" r="1.5" fill="#b0b0b0" stroke="#a0a0a0" stroke-width="0.5"/>
<circle cx="45.8" cy="263.3" r="1.5" fill="#b0b0b0" stroke="#a0a0a0" stroke-width="0.5"/>
<circle cx="78.3" cy="247.8" r="1.5" fill="#b0b0b0" stroke="#a0a0a0" stroke-width="0.5"/>
<circle cx="73.3" cy="259.8" r="1.35" fill="#e4e4e4" stroke="#8e8e8e" stroke-width="0.8"/>
<circle cx="83.8" cy="236.3" r="1.35" fill="#e4e4e4" stroke="#8e8e8e" stroke-width="0.8"/>
<circle cx="83.8" cy="240.4" r="1.35" fill="#e4e4e4" stroke="#8e8e8e" stroke-width="0.8"/>
<circle cx="83.8" cy="243.8" r="1.35" fill="#e4e4e4" stroke="#8e8e8e" stroke-width="0.8"/>
<circle cx="83.8" cy="252.4" r="1.35" fill="#e4e4e4" stroke="#8e8e8e" stroke-width="0.8"/>
<circle cx="83.8" cy="254.8" r="1.5" fill="#b0b0b0" stroke="#a0a0a0" stroke-width="0.5"/>
<circle cx="84.0" cy="259.4" r="1.35" fill="#521020" stroke="#380a12" stroke-width="0.5"/>
<circle cx="84.0" cy="266.4" r="1.5" fill="#b0b0b0" stroke="#a0a0a0" stroke-width="0.5"/>
<circle cx="89.3" cy="234.8" r="1.35" fill="#e4e4e4" stroke="#8e8e8e" stroke-width="0.8"/>
<circle cx="89.3" cy="243.3" r="1.35" fill="#e4e4e4" stroke="#8e8e8e" stroke-width="0.8"/>
<circle cx="89.3" cy="245.4" r="1.35" fill="#e4e4e4" stroke="#8e8e8e" stroke-width="0.8"/>
<circle cx="89.3" cy="249.5" r="1.35" fill="#e4e4e4" stroke="#8e8e8e" stroke-width="0.8"/>
<circle cx="89.3" cy="251.9" r="1.35" fill="#e4e4e4" stroke="#8e8e8e" stroke-width="0.8"/>
<circle cx="89.3" cy="254.0" r="1.35" fill="#e4e4e4" stroke="#8e8e8e" stroke-width="0.8"/>
<circle cx="89.3" cy="256.0" r="1.35" fill="#e4e4e4" stroke="#8e8e8e" stroke-width="0.8"/>
<circle cx="89.3" cy="258.0" r="1.35" fill="#e4e4e4" stroke="#8e8e8e" stroke-width="0.8"/>
<circle cx="89.3" cy="261.3" r="1.35" fill="#e4e4e4" stroke="#8e8e8e" stroke-width="0.8"/>
<circle cx="94.6" cy="242.8" r="1.5" fill="#8a8a8a" stroke="#7a7a7a" stroke-width="0.5"/>
<circle cx="94.6" cy="250.5" r="1.35" fill="#e4e4e4" stroke="#8e8e8e" stroke-width="0.8"/>
<circle cx="94.6" cy="252.6" r="1.35" fill="#e4e4e4" stroke="#8e8e8e" stroke-width="0.8"/>
<circle cx="100.2" cy="242.8" r="1.5" fill="#b0b0b0" stroke="#a0a0a0" stroke-width="0.5"/>
<circle cx="100.2" cy="244.9" r="1.35" fill="#e4e4e4" stroke="#8e8e8e" stroke-width="0.8"/>
<circle cx="100.2" cy="247.1" r="1.35" fill="#e4e4e4" stroke="#8e8e8e" stroke-width="0.8"/>
<circle cx="105.7" cy="237.3" r="1.35" fill="#e4e4e4" stroke="#8e8e8e" stroke-width="0.8"/>
<circle cx="105.7" cy="245.2" r="1.35" fill="#521020" stroke="#380a12" stroke-width="0.5"/>
<circle cx="105.7" cy="248.3" r="1.35" fill="#f4e4e4" stroke="#b88080" stroke-width="0.8"/>
<circle cx="105.7" cy="252.7" r="1.35" fill="#521020" stroke="#380a12" stroke-width="0.5"/>
<circle cx="111.0" cy="216.0" r="1.5" fill="#b0b0b0" stroke="#a0a0a0" stroke-width="0.5"/>
<circle cx="111.0" cy="218.6" r="1.5" fill="#b0b0b0" stroke="#a0a0a0" stroke-width="0.5"/>
<circle cx="111.0" cy="232.5" r="1.5" fill="#b0b0b0" stroke="#a0a0a0" stroke-width="0.5"/>
<circle cx="111.0" cy="238.8" r="1.5" fill="#b0b0b0" stroke="#a0a0a0" stroke-width="0.5"/>
<circle cx="116.4" cy="222.7" r="1.35" fill="#e4e4e4" stroke="#8e8e8e" stroke-width="0.8"/>
<circle cx="116.4" cy="225.6" r="1.35" fill="#e4e4e4" stroke="#8e8e8e" stroke-width="0.8"/>
<circle cx="116.4" cy="228.2" r="1.35" fill="#f4e4e4" stroke="#b88080" stroke-width="0.8"/>
<circle cx="116.4" cy="232.3" r="1.35" fill="#521020" stroke="#380a12" stroke-width="0.5"/>
<circle cx="116.4" cy="234.4" r="1.5" fill="#b0b0b0" stroke="#a0a0a0" stroke-width="0.5"/>
<circle cx="122.0" cy="221.0" r="1.35" fill="#e4e4e4" stroke="#8e8e8e" stroke-width="0.8"/>
<circle cx="127.3" cy="222.4" r="1.35" fill="#e4e4e4" stroke="#8e8e8e" stroke-width="0.8"/>
<circle cx="137.9" cy="229.8" r="1.35" fill="#e4e4e4" stroke="#8e8e8e" stroke-width="0.8"/>
<circle cx="45.7" cy="274.7" r="1.5" fill="#b0b0b0" stroke="#a0a0a0" stroke-width="0.5"/>
<circle cx="45.7" cy="278.1" r="1.5" fill="#b0b0b0" stroke="#a0a0a0" stroke-width="0.5"/>
<circle cx="45.7" cy="282.4" r="1.35" fill="#521020" stroke="#380a12" stroke-width="0.5"/>
<circle cx="45.7" cy="284.4" r="1.35" fill="#d81010" stroke="#a01010" stroke-width="0.5"/>
<circle cx="45.7" cy="286.6" r="1.35" fill="#521020" stroke="#380a12" stroke-width="0.5"/>
<circle cx="45.7" cy="291.0" r="1.35" fill="#d81010" stroke="#a01010" stroke-width="0.5"/>
<circle cx="45.7" cy="293.0" r="1.35" fill="#521020" stroke="#380a12" stroke-width="0.5"/>
<circle cx="51.5" cy="283.0" r="1.35" fill="#521020" stroke="#380a12" stroke-width="0.5"/>
<circle cx="51.5" cy="285.0" r="1.35" fill="#d81010" stroke="#a01010" stroke-width="0.5"/>
<circle cx="51.5" cy="287.0" r="1.35" fill="#d81010" stroke="#a01010" stroke-width="0.5"/>
<circle cx="51.5" cy="289.0" r="1.35" fill="#d81010" stroke="#a01010" stroke-width="0.5"/>
<circle cx="51.5" cy="291.0" r="1.35" fill="#d81010" stroke="#a01010" stroke-width="0.5"/>
<circle cx="57.0" cy="275.7" r="1.4500000000000002" fill="#4a4a4a" stroke="#3a3a3a" stroke-width="0.5"/>
<circle cx="57.0" cy="277.6" r="1.35" fill="#d81010" stroke="#a01010" stroke-width="0.5"/>
<circle cx="57.0" cy="279.6" r="1.35" fill="#d81010" stroke="#a01010" stroke-width="0.5"/>
<circle cx="57.0" cy="282.0" r="1.35" fill="#521020" stroke="#380a12" stroke-width="0.5"/>
<circle cx="57.0" cy="284.2" r="1.35" fill="#d81010" stroke="#a01010" stroke-width="0.5"/>
<circle cx="57.0" cy="287.0" r="1.35" fill="#d81010" stroke="#a01010" stroke-width="0.5"/>
<circle cx="62.5" cy="266.0" r="1.35" fill="#e4e4e4" stroke="#8e8e8e" stroke-width="0.8"/>
<circle cx="62.5" cy="270.9" r="1.35" fill="#e4e4e4" stroke="#8e8e8e" stroke-width="0.8"/>
<circle cx="62.5" cy="273.8" r="1.35" fill="#d81010" stroke="#a01010" stroke-width="0.5"/>
<circle cx="62.5" cy="275.8" r="1.35" fill="#d81010" stroke="#a01010" stroke-width="0.5"/>
<circle cx="62.5" cy="277.4" r="1.35" fill="#521020" stroke="#380a12" stroke-width="0.5"/>
<circle cx="62.5" cy="279.4" r="1.35" fill="#d81010" stroke="#a01010" stroke-width="0.5"/>
<circle cx="62.5" cy="281.0" r="1.35" fill="#d81010" stroke="#a01010" stroke-width="0.5"/>
<circle cx="62.5" cy="283.4" r="1.35" fill="#e4e4e4" stroke="#8e8e8e" stroke-width="0.8"/>
<circle cx="67.8" cy="264.1" r="1.35" fill="#e4e4e4" stroke="#8e8e8e" stroke-width="0.8"/>
<circle cx="67.8" cy="268.0" r="1.35" fill="#521020" stroke="#380a12" stroke-width="0.5"/>
<circle cx="67.8" cy="270.6" r="1.4500000000000002" fill="#4a4a4a" stroke="#3a3a3a" stroke-width="0.5"/>
<circle cx="67.8" cy="273.8" r="1.35" fill="#d81010" stroke="#a01010" stroke-width="0.5"/>
<circle cx="67.8" cy="275.6" r="1.4500000000000002" fill="#4a4a4a" stroke="#3a3a3a" stroke-width="0.5"/>
<circle cx="67.8" cy="278.6" r="1.5" fill="#b0b0b0" stroke="#a0a0a0" stroke-width="0.5"/>
<circle cx="73.4" cy="264.6" r="1.4500000000000002" fill="#4a4a4a" stroke="#3a3a3a" stroke-width="0.5"/>
<circle cx="73.4" cy="267.5" r="1.4500000000000002" fill="#4a4a4a" stroke="#3a3a3a" stroke-width="0.5"/>
<circle cx="73.4" cy="271.3" r="1.35" fill="#d81010" stroke="#a01010" stroke-width="0.5"/>
<circle cx="73.4" cy="272.8" r="1.4500000000000002" fill="#4a4a4a" stroke="#3a3a3a" stroke-width="0.5"/>
<circle cx="73.4" cy="277.1" r="1.35" fill="#e4e4e4" stroke="#8e8e8e" stroke-width="0.8"/>
<circle cx="78.6" cy="264.1" r="1.35" fill="#e4e4e4" stroke="#8e8e8e" stroke-width="0.8"/>
<circle cx="78.6" cy="267.5" r="1.35" fill="#e4e4e4" stroke="#8e8e8e" stroke-width="0.8"/>
<circle cx="78.6" cy="270.9" r="1.35" fill="#e4e4e4" stroke="#8e8e8e" stroke-width="0.8"/>
<circle cx="78.6" cy="274.7" r="1.35" fill="#e4e4e4" stroke="#8e8e8e" stroke-width="0.8"/>
<circle cx="45.7" cy="288.7" r="1.55" fill="#8ee26a"/>
<circle cx="51.5" cy="280.0" r="1.55" fill="#8ee26a"/>
<circle cx="122.0" cy="231.0" r="2.0" fill="#12129a"/>
<circle cx="132.8" cy="180.2" r="1.5" fill="#12129a"/>
<text x="106.80" y="183.60" font-size="11" font-weight="bold" text-anchor="start" fill="#1c1ca6" >GST</text>
<text x="130.20" y="242.10" font-size="11" font-weight="bold" text-anchor="start" fill="#1c1ca6" >Slp4-a</text>
<text x="70.60" y="288.50" font-size="11" font-weight="bold" text-anchor="start" fill="#8ee36c" >Rab8A</text>
<text x="52.80" y="300.40" font-size="11" font-weight="bold" text-anchor="start" fill="#8ee36c" >Rab27A</text>
<circle cx="507.3" cy="96.1" r="1.35" fill="#e4e4e4" stroke="#8e8e8e" stroke-width="0.8"/>
<circle cx="471.1" cy="123.8" r="1.5" fill="#b0b0b0" stroke="#a0a0a0" stroke-width="0.5"/>
<circle cx="412.2" cy="139.2" r="1.35" fill="#e4e4e4" stroke="#8e8e8e" stroke-width="0.8"/>
<circle cx="432.3" cy="163.5" r="1.5" fill="#b0b0b0" stroke="#a0a0a0" stroke-width="0.5"/>
<circle cx="435.3" cy="173.4" r="1.5" fill="#b0b0b0" stroke="#a0a0a0" stroke-width="0.5"/>
<circle cx="412.3" cy="185.2" r="1.35" fill="#e4e4e4" stroke="#8e8e8e" stroke-width="0.8"/>
<circle cx="418.9" cy="192.1" r="1.5" fill="#b0b0b0" stroke="#a0a0a0" stroke-width="0.5"/>
<circle cx="392.5" cy="194.1" r="1.5" fill="#b0b0b0" stroke="#a0a0a0" stroke-width="0.5"/>
<circle cx="408.8" cy="200.5" r="1.5" fill="#b0b0b0" stroke="#a0a0a0" stroke-width="0.5"/>
<circle cx="399.0" cy="204.5" r="1.5" fill="#b0b0b0" stroke="#a0a0a0" stroke-width="0.5"/>
<circle cx="402.5" cy="207.1" r="1.35" fill="#e4e4e4" stroke="#8e8e8e" stroke-width="0.8"/>
<circle cx="392.5" cy="219.0" r="1.5" fill="#b0b0b0" stroke="#a0a0a0" stroke-width="0.5"/>
<circle cx="373.1" cy="222.5" r="1.5" fill="#b0b0b0" stroke="#a0a0a0" stroke-width="0.5"/>
<circle cx="382.9" cy="230.5" r="1.5" fill="#b0b0b0" stroke="#a0a0a0" stroke-width="0.5"/>
<circle cx="389.2" cy="229.6" r="1.35" fill="#e4e4e4" stroke="#8e8e8e" stroke-width="0.8"/>
<circle cx="366.4" cy="236.0" r="1.35" fill="#e4e4e4" stroke="#8e8e8e" stroke-width="0.8"/>
<circle cx="363.3" cy="223.6" r="1.5" fill="#b0b0b0" stroke="#a0a0a0" stroke-width="0.5"/>
<circle cx="323.8" cy="149.8" r="1.35" fill="#521020" stroke="#380a12" stroke-width="0.5"/>
<circle cx="317.3" cy="184.2" r="1.35" fill="#e4e4e4" stroke="#8e8e8e" stroke-width="0.8"/>
<circle cx="317.3" cy="191.4" r="1.35" fill="#e4e4e4" stroke="#8e8e8e" stroke-width="0.8"/>
<circle cx="366.5" cy="241.5" r="1.35" fill="#f4e4e4" stroke="#b88080" stroke-width="0.8"/>
<circle cx="360.0" cy="238.5" r="1.5" fill="#b0b0b0" stroke="#a0a0a0" stroke-width="0.5"/>
<circle cx="360.0" cy="246.2" r="1.5" fill="#b0b0b0" stroke="#a0a0a0" stroke-width="0.5"/>
<circle cx="360.0" cy="250.0" r="1.35" fill="#f4e4e4" stroke="#b88080" stroke-width="0.8"/>
<circle cx="363.1" cy="249.2" r="1.35" fill="#f4e4e4" stroke="#b88080" stroke-width="0.8"/>
<circle cx="366.5" cy="250.0" r="1.35" fill="#521020" stroke="#380a12" stroke-width="0.5"/>
<circle cx="353.5" cy="250.8" r="1.35" fill="#e4e4e4" stroke="#8e8e8e" stroke-width="0.8"/>
<circle cx="360.0" cy="255.4" r="1.5" fill="#8a8a8a" stroke="#7a7a7a" stroke-width="0.5"/>
<circle cx="350.0" cy="254.6" r="1.35" fill="#e4e4e4" stroke="#8e8e8e" stroke-width="0.8"/>
<circle cx="350.0" cy="257.7" r="1.35" fill="#521020" stroke="#380a12" stroke-width="0.5"/>
<circle cx="353.5" cy="256.2" r="1.35" fill="#e4e4e4" stroke="#8e8e8e" stroke-width="0.8"/>
<circle cx="350.0" cy="262.3" r="1.35" fill="#8aa0a0" stroke="#607070" stroke-width="0.6"/>
<circle cx="346.9" cy="260.8" r="1.5" fill="#b0b0b0" stroke="#a0a0a0" stroke-width="0.5"/>
<circle cx="343.1" cy="262.3" r="1.35" fill="#e4e4e4" stroke="#8e8e8e" stroke-width="0.8"/>
<circle cx="340.8" cy="250.8" r="1.35" fill="#e4e4e4" stroke="#8e8e8e" stroke-width="0.8"/>
<circle cx="346.9" cy="266.2" r="1.35" fill="#521020" stroke="#380a12" stroke-width="0.5"/>
<circle cx="343.1" cy="266.2" r="1.35" fill="#e4e4e4" stroke="#8e8e8e" stroke-width="0.8"/>
<circle cx="317.3" cy="268.8" r="1.5" fill="#b0b0b0" stroke="#a0a0a0" stroke-width="0.5"/>
<circle cx="317.3" cy="277.9" r="1.5" fill="#b0b0b0" stroke="#a0a0a0" stroke-width="0.5"/>
<circle cx="317.3" cy="281.7" r="1.35" fill="#e4e4e4" stroke="#8e8e8e" stroke-width="0.8"/>
<circle cx="317.8" cy="286.0" r="1.35" fill="#521020" stroke="#380a12" stroke-width="0.5"/>
<circle cx="317.8" cy="288.0" r="1.35" fill="#d81010" stroke="#a01010" stroke-width="0.5"/>
<circle cx="317.8" cy="289.6" r="1.35" fill="#521020" stroke="#380a12" stroke-width="0.5"/>
<circle cx="321.3" cy="277.9" r="1.35" fill="#e4e4e4" stroke="#8e8e8e" stroke-width="0.8"/>
<circle cx="321.3" cy="283.7" r="1.35" fill="#d81010" stroke="#a01010" stroke-width="0.5"/>
<circle cx="321.3" cy="285.6" r="1.35" fill="#521020" stroke="#380a12" stroke-width="0.5"/>
<circle cx="321.3" cy="287.5" r="1.35" fill="#d81010" stroke="#a01010" stroke-width="0.5"/>
<circle cx="321.3" cy="289.4" r="1.35" fill="#d81010" stroke="#a01010" stroke-width="0.5"/>
<circle cx="321.3" cy="291.3" r="1.35" fill="#d81010" stroke="#a01010" stroke-width="0.5"/>
<circle cx="324.6" cy="279.8" r="1.35" fill="#d81010" stroke="#a01010" stroke-width="0.5"/>
<circle cx="324.6" cy="281.8" r="1.35" fill="#521020" stroke="#380a12" stroke-width="0.5"/>
<circle cx="324.6" cy="284.0" r="1.35" fill="#d81010" stroke="#a01010" stroke-width="0.5"/>
<circle cx="324.6" cy="286.4" r="1.35" fill="#d81010" stroke="#a01010" stroke-width="0.5"/>
<circle cx="324.6" cy="288.5" r="1.35" fill="#521020" stroke="#380a12" stroke-width="0.5"/>
<circle cx="327.9" cy="262.0" r="1.5" fill="#b0b0b0" stroke="#a0a0a0" stroke-width="0.5"/>
<circle cx="327.9" cy="272.1" r="1.35" fill="#e4e4e4" stroke="#8e8e8e" stroke-width="0.8"/>
<circle cx="327.9" cy="278.8" r="1.35" fill="#d81010" stroke="#a01010" stroke-width="0.5"/>
<circle cx="327.9" cy="280.8" r="1.35" fill="#d81010" stroke="#a01010" stroke-width="0.5"/>
<circle cx="327.9" cy="283.2" r="1.35" fill="#521020" stroke="#380a12" stroke-width="0.5"/>
<circle cx="327.9" cy="286.0" r="1.35" fill="#d81010" stroke="#a01010" stroke-width="0.5"/>
<circle cx="331.2" cy="269.7" r="1.35" fill="#e4e4e4" stroke="#8e8e8e" stroke-width="0.8"/>
<circle cx="331.2" cy="276.0" r="1.35" fill="#d81010" stroke="#a01010" stroke-width="0.5"/>
<circle cx="331.2" cy="278.2" r="1.35" fill="#d81010" stroke="#a01010" stroke-width="0.5"/>
<circle cx="331.2" cy="280.5" r="1.35" fill="#521020" stroke="#380a12" stroke-width="0.5"/>
<circle cx="331.2" cy="282.7" r="1.35" fill="#d81010" stroke="#a01010" stroke-width="0.5"/>
<circle cx="334.4" cy="268.3" r="1.35" fill="#e4e4e4" stroke="#8e8e8e" stroke-width="0.8"/>
<circle cx="334.4" cy="272.6" r="1.35" fill="#d81010" stroke="#a01010" stroke-width="0.5"/>
<circle cx="337.7" cy="260.1" r="1.35" fill="#e4e4e4" stroke="#8e8e8e" stroke-width="0.8"/>
<circle cx="337.7" cy="265.4" r="1.35" fill="#e4e4e4" stroke="#8e8e8e" stroke-width="0.8"/>
<circle cx="337.7" cy="271.6" r="1.35" fill="#8aa0a0" stroke="#607070" stroke-width="0.6"/>
<circle cx="337.7" cy="273.6" r="1.35" fill="#8aa0a0" stroke="#607070" stroke-width="0.6"/>
<circle cx="341.0" cy="264.9" r="1.35" fill="#521020" stroke="#380a12" stroke-width="0.5"/>
<circle cx="341.0" cy="270.2" r="1.35" fill="#8aa0a0" stroke="#607070" stroke-width="0.6"/>
<circle cx="341.0" cy="273.6" r="1.35" fill="#e4e4e4" stroke="#8e8e8e" stroke-width="0.8"/>
<circle cx="341.0" cy="277.4" r="1.35" fill="#521020" stroke="#380a12" stroke-width="0.5"/>
<circle cx="344.2" cy="262.5" r="1.5" fill="#b0b0b0" stroke="#a0a0a0" stroke-width="0.5"/>
<circle cx="344.2" cy="267.3" r="1.35" fill="#521020" stroke="#380a12" stroke-width="0.5"/>
<circle cx="344.2" cy="272.1" r="1.35" fill="#e4e4e4" stroke="#8e8e8e" stroke-width="0.8"/>
<circle cx="347.5" cy="260.6" r="1.5" fill="#b0b0b0" stroke="#a0a0a0" stroke-width="0.5"/>
<circle cx="347.5" cy="265.9" r="1.35" fill="#521020" stroke="#380a12" stroke-width="0.5"/>
<circle cx="350.8" cy="254.3" r="1.5" fill="#b0b0b0" stroke="#a0a0a0" stroke-width="0.5"/>
<circle cx="350.8" cy="257.2" r="1.35" fill="#521020" stroke="#380a12" stroke-width="0.5"/>
<circle cx="350.8" cy="262.5" r="1.35" fill="#8aa0a0" stroke="#607070" stroke-width="0.6"/>
<circle cx="350.8" cy="270.2" r="1.35" fill="#e4e4e4" stroke="#8e8e8e" stroke-width="0.8"/>
<circle cx="354.0" cy="251.0" r="1.5" fill="#b0b0b0" stroke="#a0a0a0" stroke-width="0.5"/>
<circle cx="340.2" cy="251.3" r="1.35" fill="#e4e4e4" stroke="#8e8e8e" stroke-width="0.8"/>
<circle cx="383.1" cy="230.8" r="1.5" fill="#b0b0b0" stroke="#a0a0a0" stroke-width="0.5"/>
<circle cx="389.2" cy="230.0" r="1.5" fill="#b0b0b0" stroke="#a0a0a0" stroke-width="0.5"/>
<circle cx="317.8" cy="291.8" r="1.55" fill="#8ee26a"/>
<circle cx="334.4" cy="276.4" r="1.55" fill="#8ee26a"/>
<circle cx="334.4" cy="279.0" r="1.55" fill="#8ee26a"/>
<circle cx="370.2" cy="247.7" r="1.55" fill="#8ee26a"/>
<circle cx="376.5" cy="207.9" r="1.8" fill="#12129a"/>
<circle cx="438.6" cy="143.7" r="1.9" fill="#12129a"/>
<text x="351.10" y="216.30" font-size="11" font-weight="bold" text-anchor="start" fill="#1c1ca6" >GST</text>
<text x="446.20" y="153.80" font-size="11" font-weight="bold" text-anchor="start" fill="#1c1ca6" >Slp4-a</text>
<text x="376.20" y="254.60" font-size="11" font-weight="bold" text-anchor="start" fill="#8ee36c" >STXBP1</text>
<text x="344.60" y="284.60" font-size="11" font-weight="bold" text-anchor="start" fill="#8ee36c" >Syntaxin-3</text>
<text x="326.70" y="296.90" font-size="11" font-weight="bold" text-anchor="start" fill="#8ee36c" >Syntaxin-2</text>
<line x1="261.5" y1="547.2" x2="261.5" y2="641.2" stroke="#222" stroke-width="1.1"/>
<line x1="258.5" y1="622.0" x2="258.5" y2="641.2" stroke="#444" stroke-width="0.9"/>
<line x1="219.5" y1="633.0" x2="219.5" y2="641.2" stroke="#777" stroke-width="0.8"/>
<line x1="222.5" y1="631.6" x2="222.5" y2="641.2" stroke="#777" stroke-width="0.8"/>
<line x1="239.5" y1="634.8" x2="239.5" y2="641.2" stroke="#777" stroke-width="0.8"/>
<line x1="243.5" y1="634.8" x2="243.5" y2="641.2" stroke="#777" stroke-width="0.8"/>
<line x1="257.5" y1="636.0" x2="257.5" y2="641.2" stroke="#777" stroke-width="0.8"/>
<line x1="264.5" y1="637.0" x2="264.5" y2="641.2" stroke="#777" stroke-width="0.8"/>
<line x1="224.5" y1="633.5" x2="224.5" y2="641.2" stroke="#777" stroke-width="0.8"/>
<line x1="440.5" y1="633.0" x2="440.5" y2="641.2" stroke="#777" stroke-width="0.8"/>
<line x1="360.5" y1="636.0" x2="360.5" y2="641.2" stroke="#777" stroke-width="0.8"/>
<line x1="125.5" y1="623.5" x2="125.5" y2="641.2" stroke="#9a1a2c" stroke-width="1.0"/>
<line x1="170.5" y1="625.0" x2="170.5" y2="641.2" stroke="#9a1a2c" stroke-width="1.0"/>
<line x1="221.5" y1="605.5" x2="221.5" y2="641.2" stroke="#9a1a2c" stroke-width="1.0"/>
<line x1="287.5" y1="614.0" x2="287.5" y2="641.2" stroke="#9a1a2c" stroke-width="1.0"/>
<line x1="327.5" y1="603.0" x2="327.5" y2="641.2" stroke="#9a1a2c" stroke-width="1.0"/>
<line x1="379.5" y1="630.0" x2="379.5" y2="641.2" stroke="#a03050" stroke-width="0.9"/>
<line x1="465.0" y1="619.6" x2="465.0" y2="641.2" stroke="#9cc4e4" stroke-width="0.9" stroke-dasharray="1.2,1.2"/>
<line x1="430.5" y1="628.5" x2="430.5" y2="641.2" stroke="#802020" stroke-width="0.9"/>
<line x1="398.5" y1="631.5" x2="398.5" y2="641.2" stroke="#604060" stroke-width="0.9"/>
<line x1="225.5" y1="628.5" x2="225.5" y2="641.2" stroke="#902020" stroke-width="0.9"/>
<line x1="309.5" y1="634.8" x2="309.5" y2="641.2" stroke="#1c1cc0" stroke-width="1.0"/>
<line x1="361.5" y1="632.0" x2="361.5" y2="641.2" stroke="#1c1cc0" stroke-width="1.0"/>
<line x1="405.5" y1="632.0" x2="405.5" y2="641.2" stroke="#1c1cc0" stroke-width="1.0"/>
<line x1="118.4" y1="566.0" x2="118.4" y2="641.2" stroke="#5a6a9a" stroke-width="0.8" stroke-dasharray="1.1,1.3"/>
<line x1="93.8" y1="603.5" x2="93.8" y2="641.2" stroke="#5a6a9a" stroke-width="0.8" stroke-dasharray="1.1,1.3"/>
<line x1="152.5" y1="617.0" x2="152.5" y2="641.2" stroke="#5a6a9a" stroke-width="0.8" stroke-dasharray="1.1,1.3"/>
<line x1="203.0" y1="621.0" x2="203.0" y2="641.2" stroke="#5a6a9a" stroke-width="0.8" stroke-dasharray="1.1,1.3"/>
<line x1="236.6" y1="567.0" x2="236.6" y2="641.2" stroke="#5a6a9a" stroke-width="0.8" stroke-dasharray="1.1,1.3"/>
<line x1="225.3" y1="584.0" x2="225.3" y2="641.2" stroke="#5a6a9a" stroke-width="0.8" stroke-dasharray="1.1,1.3"/>
<line x1="243.8" y1="613.0" x2="243.8" y2="641.2" stroke="#5a6a9a" stroke-width="0.8" stroke-dasharray="1.1,1.3"/>
<line x1="302.2" y1="571.0" x2="302.2" y2="641.2" stroke="#5a6a9a" stroke-width="0.8" stroke-dasharray="1.1,1.3"/>
<line x1="319.9" y1="617.0" x2="319.9" y2="641.2" stroke="#5a6a9a" stroke-width="0.8" stroke-dasharray="1.1,1.3"/>
<line x1="371.8" y1="572.0" x2="371.8" y2="641.2" stroke="#5a6a9a" stroke-width="0.8" stroke-dasharray="1.1,1.3"/>
<line x1="353.4" y1="594.0" x2="353.4" y2="641.2" stroke="#5a6a9a" stroke-width="0.8" stroke-dasharray="1.1,1.3"/>
<line x1="405.7" y1="579.0" x2="405.7" y2="641.2" stroke="#5a6a9a" stroke-width="0.8" stroke-dasharray="1.1,1.3"/>
<line x1="434.0" y1="564.0" x2="434.0" y2="641.2" stroke="#5a6a9a" stroke-width="0.8" stroke-dasharray="1.1,1.3"/>
<line x1="423.0" y1="601.0" x2="423.0" y2="641.2" stroke="#5a6a9a" stroke-width="0.8" stroke-dasharray="1.1,1.3"/>
<line x1="398.9" y1="617.0" x2="398.9" y2="641.2" stroke="#5a6a9a" stroke-width="0.8" stroke-dasharray="1.1,1.3"/>
<line x1="90.9" y1="625.0" x2="90.9" y2="641.2" stroke="#5a6a9a" stroke-width="0.8" stroke-dasharray="1.1,1.3"/>
<line x1="327.4" y1="603.5" x2="340.5" y2="603.5" stroke="#9a9a9a" stroke-width="0.8" stroke-dasharray="1.1,1.3"/>
<line x1="378.8" y1="588.4" x2="390.0" y2="588.4" stroke="#9a9a9a" stroke-width="0.8" stroke-dasharray="1.1,1.3"/>
<line x1="378.8" y1="588.2" x2="378.8" y2="641.2" stroke="#9a9a9a" stroke-width="0.8" stroke-dasharray="1.1,1.3"/>
<line x1="407.0" y1="609.0" x2="416.6" y2="609.0" stroke="#9a9a9a" stroke-width="0.8" stroke-dasharray="1.1,1.3"/>
<text x="118.8" y="559.4" font-size="8.0" font-weight="bold" text-anchor="middle" fill="#cfa032" textLength="29.8" lengthAdjust="spacingAndGlyphs">y<tspan font-size="4.80" dy="0.3">2</tspan><tspan dy="-0.3">&#8211;NH</tspan><tspan font-size="4.80" dy="0.3">3</tspan></text>
<text x="118.8" y="564.2" font-size="3.6" font-weight="bold" text-anchor="middle" fill="#cfa032" opacity="0.85">245.12</text>
<text x="118.2" y="582.2" font-size="8.0" font-weight="bold" text-anchor="middle" fill="#cfa032" textLength="29.8" lengthAdjust="spacingAndGlyphs">y<tspan font-size="4.80" dy="0.3">2</tspan><tspan dy="-0.3">&#8211;H</tspan><tspan font-size="4.80" dy="0.3">2</tspan><tspan dy="-0.3">O</tspan></text>
<text x="118.2" y="587.0" font-size="3.6" font-weight="bold" text-anchor="middle" fill="#cfa032" opacity="0.85">244.14</text>
<text x="94.1" y="597.3" font-size="8.0" font-weight="bold" text-anchor="middle" fill="#cfa032" textLength="29.8" lengthAdjust="spacingAndGlyphs">b<tspan font-size="4.80" dy="0.3">2</tspan><tspan dy="-0.3">&#8211;H</tspan><tspan font-size="4.80" dy="0.3">2</tspan><tspan dy="-0.3">O</tspan></text>
<text x="94.1" y="602.1" font-size="3.6" font-weight="bold" text-anchor="middle" fill="#cfa032" opacity="0.85">183.11</text>
<text x="90.9" y="620.0" font-size="8.5" font-weight="bold" text-anchor="middle" fill="#c0142c">y<tspan font-size="5.10" dy="0.3">1</tspan></text>
<text x="90.9" y="624.8" font-size="3.6" font-weight="bold" text-anchor="middle" fill="#c0142c" opacity="0.85">175.12</text>
<text x="90.9" y="634.0" font-size="7.5" font-weight="bold" text-anchor="middle" fill="#9cc4e4">y<tspan font-size="4.50" dy="0.3">1</tspan></text>
<text x="90.9" y="638.8" font-size="3.6" font-weight="bold" text-anchor="middle" fill="#9cc4e4" opacity="0.85">147.11</text>
<text x="104.5" y="634.2" font-size="9" font-weight="bold" text-anchor="middle" fill="#1c1cc0">b<tspan font-size="5.40" dy="0.3">2</tspan></text>
<text x="104.5" y="639.0" font-size="3.6" font-weight="bold" text-anchor="middle" fill="#1c1cc0" opacity="0.85">201.12</text>
<text x="124.6" y="617.4" font-size="8.5" font-weight="bold" text-anchor="middle" fill="#c0142c">y<tspan font-size="5.10" dy="0.3">2</tspan></text>
<text x="124.6" y="622.2" font-size="3.6" font-weight="bold" text-anchor="middle" fill="#c0142c" opacity="0.85">262.15</text>
<text x="145.0" y="631.7" font-size="8.0" font-weight="bold" text-anchor="middle" fill="#cfa032" textLength="30" lengthAdjust="spacingAndGlyphs">b<tspan font-size="4.80" dy="0.3">3</tspan><tspan dy="-0.3">&#8211;H</tspan><tspan font-size="4.80" dy="0.3">2</tspan><tspan dy="-0.3">O</tspan></text>
<text x="145.0" y="636.5" font-size="3.6" font-weight="bold" text-anchor="middle" fill="#cfa032" opacity="0.85">312.16</text>
<text x="152.5" y="611.5" font-size="9" font-weight="bold" text-anchor="middle" fill="#1c1cc0">b<tspan font-size="5.40" dy="0.3">3</tspan></text>
<text x="152.5" y="616.3" font-size="3.6" font-weight="bold" text-anchor="middle" fill="#1c1cc0" opacity="0.85">330.17</text>
<text x="171.4" y="619.5" font-size="8.5" font-weight="bold" text-anchor="middle" fill="#c0142c">y<tspan font-size="5.10" dy="0.3">3</tspan></text>
<text x="171.4" y="624.3" font-size="3.6" font-weight="bold" text-anchor="middle" fill="#c0142c" opacity="0.85">375.24</text>
<text x="203.1" y="614.7" font-size="9" font-weight="bold" text-anchor="middle" fill="#1c1cc0">b<tspan font-size="5.40" dy="0.3">4</tspan></text>
<text x="203.1" y="619.5" font-size="3.6" font-weight="bold" text-anchor="middle" fill="#1c1cc0" opacity="0.85">458.22</text>
<text x="199.0" y="632.4" font-size="8.5" font-weight="bold" text-anchor="middle" fill="#c0142c">y<tspan font-size="5.10" dy="0.3">7</tspan><tspan font-size="5.10" dy="-2.8">2+</tspan></text>
<text x="199.0" y="637.2" font-size="3.6" font-weight="bold" text-anchor="middle" fill="#c0142c" opacity="0.85">443.26</text>
<text x="236.6" y="561.7" font-size="8.0" font-weight="bold" text-anchor="middle" fill="#cfa032" textLength="30.5" lengthAdjust="spacingAndGlyphs">b<tspan font-size="4.80" dy="0.3">5</tspan><tspan dy="-0.3">&#8211;H</tspan><tspan font-size="4.80" dy="0.3">2</tspan><tspan dy="-0.3">O</tspan></text>
<text x="236.6" y="566.5" font-size="3.6" font-weight="bold" text-anchor="middle" fill="#cfa032" opacity="0.85">561.26</text>
<text x="224.5" y="578.5" font-size="8.5" font-weight="bold" text-anchor="middle" fill="#c0142c">y<tspan font-size="5.10" dy="0.3">8</tspan><tspan font-size="5.10" dy="-2.8">2+</tspan></text>
<text x="224.5" y="583.3" font-size="3.6" font-weight="bold" text-anchor="middle" fill="#c0142c" opacity="0.85">512.76</text>
<text x="221.3" y="599.4" font-size="8.5" font-weight="bold" text-anchor="middle" fill="#c0142c">y<tspan font-size="5.10" dy="0.3">4</tspan></text>
<text x="221.3" y="604.2" font-size="3.6" font-weight="bold" text-anchor="middle" fill="#c0142c" opacity="0.85">505.29</text>
<text x="243.8" y="607.5" font-size="9" font-weight="bold" text-anchor="middle" fill="#1c1cc0">b<tspan font-size="5.40" dy="0.3">5</tspan></text>
<text x="243.8" y="612.3" font-size="3.6" font-weight="bold" text-anchor="middle" fill="#1c1cc0" opacity="0.85">559.27</text>
<text x="243.0" y="627.5" font-size="8.5" font-weight="bold" text-anchor="middle" fill="#c0142c">y<tspan font-size="5.10" dy="0.3">9</tspan><tspan font-size="5.10" dy="-2.8">2+</tspan></text>
<text x="243.0" y="632.3" font-size="3.6" font-weight="bold" text-anchor="middle" fill="#c0142c" opacity="0.85">596.27</text>
<text x="302.2" y="565.7" font-size="8.0" font-weight="bold" text-anchor="middle" fill="#cfa032" textLength="30.2" lengthAdjust="spacingAndGlyphs">b<tspan font-size="4.80" dy="0.3">6</tspan><tspan dy="-0.3">&#8211;NH</tspan><tspan font-size="4.80" dy="0.3">3</tspan></text>
<text x="302.2" y="570.5" font-size="3.6" font-weight="bold" text-anchor="middle" fill="#cfa032" opacity="0.85">703.41</text>
<text x="302.2" y="586.6" font-size="8.0" font-weight="bold" text-anchor="middle" fill="#cfa032" textLength="30.2" lengthAdjust="spacingAndGlyphs">b<tspan font-size="4.80" dy="0.3">6</tspan><tspan dy="-0.3">&#8211;H</tspan><tspan font-size="4.80" dy="0.3">2</tspan><tspan dy="-0.3">O</tspan></text>
<text x="302.2" y="591.4" font-size="3.6" font-weight="bold" text-anchor="middle" fill="#cfa032" opacity="0.85">704.42</text>
<text x="286.6" y="607.5" font-size="8.5" font-weight="bold" text-anchor="middle" fill="#c0142c">y<tspan font-size="5.10" dy="0.3">5</tspan></text>
<text x="286.6" y="612.3" font-size="3.6" font-weight="bold" text-anchor="middle" fill="#c0142c" opacity="0.85">666.36</text>
<text x="309.8" y="629.0" font-size="9" font-weight="bold" text-anchor="middle" fill="#1c1cc0">b<tspan font-size="5.40" dy="0.3">6</tspan></text>
<text x="309.8" y="633.8" font-size="3.6" font-weight="bold" text-anchor="middle" fill="#1c1cc0" opacity="0.85">722.36</text>
<text x="319.9" y="612.3" font-size="8.0" font-weight="bold" text-anchor="middle" fill="#cfa032" textLength="30" lengthAdjust="spacingAndGlyphs">y<tspan font-size="4.80" dy="0.3">6</tspan><tspan dy="-0.3">&#8211;H</tspan><tspan font-size="4.80" dy="0.3">2</tspan><tspan dy="-0.3">O</tspan></text>
<text x="319.9" y="617.1" font-size="3.6" font-weight="bold" text-anchor="middle" fill="#cfa032" opacity="0.85">763.43</text>
<text x="347.0" y="604.9" font-size="8.5" font-weight="bold" text-anchor="middle" fill="#c0142c">y<tspan font-size="5.10" dy="0.3">6</tspan></text>
<text x="347.0" y="609.5" font-size="3.6" font-weight="bold" text-anchor="middle" fill="#c0142c" opacity="0.85">781.74</text>
<text x="371.8" y="566.5" font-size="8.0" font-weight="bold" text-anchor="middle" fill="#cfa032" textLength="30" lengthAdjust="spacingAndGlyphs">y<tspan font-size="4.80" dy="0.3">7</tspan><tspan dy="-0.3">&#8211;NH</tspan><tspan font-size="4.80" dy="0.3">3</tspan></text>
<text x="371.8" y="571.3" font-size="3.6" font-weight="bold" text-anchor="middle" fill="#cfa032" opacity="0.85">878.44</text>
<text x="353.4" y="588.2" font-size="8.0" font-weight="bold" text-anchor="middle" fill="#cfa032" textLength="30" lengthAdjust="spacingAndGlyphs">b<tspan font-size="4.80" dy="0.3">7</tspan><tspan dy="-0.3">&#8211;NH</tspan><tspan font-size="4.80" dy="0.3">3</tspan></text>
<text x="353.4" y="593.0" font-size="3.6" font-weight="bold" text-anchor="middle" fill="#cfa032" opacity="0.85">833.37</text>
<text x="353.4" y="630.7" font-size="8.0" font-weight="bold" text-anchor="middle" fill="#cfa032" textLength="30" lengthAdjust="spacingAndGlyphs">b<tspan font-size="4.80" dy="0.3">7</tspan><tspan dy="-0.3">&#8211;H</tspan><tspan font-size="4.80" dy="0.3">2</tspan><tspan dy="-0.3">O</tspan></text>
<text x="353.4" y="635.5" font-size="3.6" font-weight="bold" text-anchor="middle" fill="#cfa032" opacity="0.85">859.03</text>
<text x="380.7" y="628.4" font-size="9" font-weight="bold" text-anchor="middle" fill="#1c1cc0">b<tspan font-size="5.40" dy="0.3">7</tspan></text>
<text x="380.7" y="633.2" font-size="3.6" font-weight="bold" text-anchor="middle" fill="#1c1cc0" opacity="0.85">890.39</text>
<text x="397.3" y="589.8" font-size="8.5" font-weight="bold" text-anchor="middle" fill="#c0142c">y<tspan font-size="5.10" dy="0.3">7</tspan></text>
<text x="397.3" y="594.6" font-size="3.6" font-weight="bold" text-anchor="middle" fill="#c0142c" opacity="0.85">876.46</text>
<text x="390.9" y="611.5" font-size="8.0" font-weight="bold" text-anchor="middle" fill="#cfa032" textLength="30" lengthAdjust="spacingAndGlyphs">y<tspan font-size="4.80" dy="0.3">7</tspan><tspan dy="-0.3">&#8211;H</tspan><tspan font-size="4.80" dy="0.3">2</tspan><tspan dy="-0.3">O</tspan></text>
<text x="390.9" y="616.3" font-size="3.6" font-weight="bold" text-anchor="middle" fill="#cfa032" opacity="0.85">877.45</text>
<text x="433.5" y="558.5" font-size="8.0" font-weight="bold" text-anchor="middle" fill="#cfa032" textLength="30" lengthAdjust="spacingAndGlyphs">b<tspan font-size="4.80" dy="0.3">9</tspan><tspan dy="-0.3">&#8211;NH</tspan><tspan font-size="4.80" dy="0.3">3</tspan></text>
<text x="433.5" y="563.3" font-size="3.6" font-weight="bold" text-anchor="middle" fill="#cfa032" opacity="0.85">1095.43</text>
<text x="406.1" y="572.9" font-size="9" font-weight="bold" text-anchor="middle" fill="#1c1cc0">b<tspan font-size="5.40" dy="0.3">8</tspan></text>
<text x="406.1" y="577.7" font-size="3.6" font-weight="bold" text-anchor="middle" fill="#1c1cc0" opacity="0.85">965.48</text>
<text x="433.5" y="577.8" font-size="8.0" font-weight="bold" text-anchor="middle" fill="#cfa032" textLength="30" lengthAdjust="spacingAndGlyphs">b<tspan font-size="4.80" dy="0.3">9</tspan><tspan dy="-0.3">&#8211;H</tspan><tspan font-size="4.80" dy="0.3">2</tspan><tspan dy="-0.3">O</tspan></text>
<text x="433.5" y="582.6" font-size="3.6" font-weight="bold" text-anchor="middle" fill="#cfa032" opacity="0.85">1095.5</text>
<text x="423.8" y="595.4" font-size="8.0" font-weight="bold" text-anchor="middle" fill="#cfa032" textLength="30" lengthAdjust="spacingAndGlyphs">y<tspan font-size="4.80" dy="0.3">8</tspan><tspan dy="-0.3">&#8211;NH</tspan><tspan font-size="4.80" dy="0.3">3</tspan></text>
<text x="423.8" y="600.2" font-size="3.6" font-weight="bold" text-anchor="middle" fill="#cfa032" opacity="0.85">1007.46</text>
<text x="431.6" y="610.8" font-size="8.0" font-weight="bold" text-anchor="middle" fill="#cfa032" textLength="30" lengthAdjust="spacingAndGlyphs">b<tspan font-size="4.80" dy="0.3">8</tspan><tspan dy="-0.3">&#8211;NH</tspan><tspan font-size="4.80" dy="0.3">3</tspan></text>
<text x="431.6" y="615.6" font-size="3.6" font-weight="bold" text-anchor="middle" fill="#cfa032" opacity="0.85">948.45</text>
<text x="408.6" y="630.7" font-size="8.0" font-weight="bold" text-anchor="middle" fill="#cfa032" textLength="30" lengthAdjust="spacingAndGlyphs">b<tspan font-size="4.80" dy="0.3">8</tspan><tspan dy="-0.3">&#8211;H</tspan><tspan font-size="4.80" dy="0.3">2</tspan><tspan dy="-0.3">O</tspan></text>
<text x="408.6" y="635.5" font-size="3.6" font-weight="bold" text-anchor="middle" fill="#cfa032" opacity="0.85">947.47</text>
<text x="458.0" y="631.7" font-size="8.0" font-weight="bold" text-anchor="middle" fill="#cfa032" textLength="30" lengthAdjust="spacingAndGlyphs">y<tspan font-size="4.80" dy="0.3">9</tspan><tspan dy="-0.3">&#8211;NH</tspan><tspan font-size="4.80" dy="0.3">3</tspan></text>
<text x="436.3" y="626.0" font-size="8.5" font-weight="bold" text-anchor="middle" fill="#c0142c">y<tspan font-size="5.10" dy="0.3">8</tspan></text>
<text x="436.3" y="630.8" font-size="3.6" font-weight="bold" text-anchor="middle" fill="#c0142c" opacity="0.85">1034.51</text>
<text x="451.8" y="631.7" font-size="9" font-weight="bold" text-anchor="middle" fill="#1c1cc0">b<tspan font-size="5.40" dy="0.3">9</tspan></text>
<text x="451.8" y="635.3" font-size="3.6" font-weight="bold" text-anchor="middle" fill="#1c1cc0" opacity="0.85">1093.51</text>
<text x="464.8" y="612.3" font-size="8.5" font-weight="bold" text-anchor="middle" fill="#c0142c">y<tspan font-size="5.10" dy="0.3">9</tspan></text>
<text x="464.8" y="617.3" font-size="3.6" font-weight="bold" text-anchor="middle" fill="#c0142c" opacity="0.85">1110.56</text>
</svg></body></html>
